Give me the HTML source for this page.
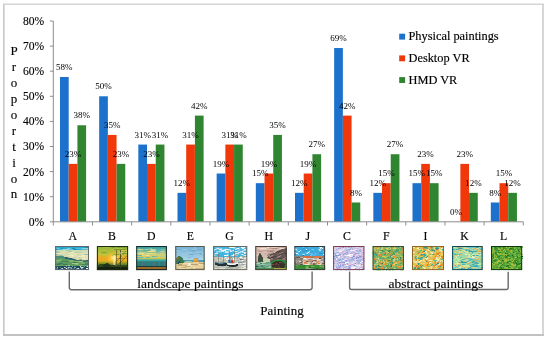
<!DOCTYPE html>
<html><head><meta charset="utf-8"><style>
html,body{margin:0;padding:0;background:#fff;width:550px;height:342px;overflow:hidden}
svg{display:block;will-change:transform}
</style></head><body>
<svg width="550" height="342" viewBox="0 0 550 342"><rect x="0" y="0" width="550" height="342" fill="#fff"/>
<defs><filter id="soft" x="-5%" y="-5%" width="110%" height="110%"><feGaussianBlur stdDeviation="0.35"/></filter></defs>
<g fill="none">
<path d="M3 4.2H544" stroke="#d6d6d6" stroke-width="1.5"/>
<path d="M3.8 4V336" stroke="#cacaca" stroke-width="1.7"/>
<path d="M543 4V336" stroke="#cdcdcd" stroke-width="1.6"/>
<path d="M3 335H544" stroke="#c2c2c2" stroke-width="1.8"/>
</g>
<rect x="60" y="76.99" width="8.7" height="144.81" fill="#1b71cc"/>
<rect x="68.7" y="163.88" width="8.7" height="57.92" fill="#f0380a"/>
<rect x="77.41" y="125.26" width="8.7" height="96.54" fill="#308630"/>
<rect x="99.16" y="96.3" width="8.7" height="125.5" fill="#1b71cc"/>
<rect x="107.87" y="134.92" width="8.7" height="86.88" fill="#f0380a"/>
<rect x="116.57" y="163.88" width="8.7" height="57.92" fill="#308630"/>
<rect x="138.33" y="144.57" width="8.7" height="77.23" fill="#1b71cc"/>
<rect x="147.03" y="163.88" width="8.7" height="57.92" fill="#f0380a"/>
<rect x="155.74" y="144.57" width="8.7" height="77.23" fill="#308630"/>
<rect x="177.5" y="192.84" width="8.7" height="28.96" fill="#1b71cc"/>
<rect x="186.2" y="144.57" width="8.7" height="77.23" fill="#f0380a"/>
<rect x="194.91" y="115.61" width="8.7" height="106.19" fill="#308630"/>
<rect x="216.66" y="173.53" width="8.7" height="48.27" fill="#1b71cc"/>
<rect x="225.37" y="144.57" width="8.7" height="77.23" fill="#f0380a"/>
<rect x="234.07" y="144.57" width="8.7" height="77.23" fill="#308630"/>
<rect x="255.83" y="183.18" width="8.7" height="38.62" fill="#1b71cc"/>
<rect x="264.53" y="173.53" width="8.7" height="48.27" fill="#f0380a"/>
<rect x="273.24" y="134.92" width="8.7" height="86.88" fill="#308630"/>
<rect x="295" y="192.84" width="8.7" height="28.96" fill="#1b71cc"/>
<rect x="303.7" y="173.53" width="8.7" height="48.27" fill="#f0380a"/>
<rect x="312.41" y="154.22" width="8.7" height="67.58" fill="#308630"/>
<rect x="334.16" y="48.03" width="8.7" height="173.77" fill="#1b71cc"/>
<rect x="342.87" y="115.61" width="8.7" height="106.19" fill="#f0380a"/>
<rect x="351.57" y="202.49" width="8.7" height="19.31" fill="#308630"/>
<rect x="373.33" y="192.84" width="8.7" height="28.96" fill="#1b71cc"/>
<rect x="382.03" y="183.18" width="8.7" height="38.62" fill="#f0380a"/>
<rect x="390.74" y="154.22" width="8.7" height="67.58" fill="#308630"/>
<rect x="412.5" y="183.18" width="8.7" height="38.62" fill="#1b71cc"/>
<rect x="421.2" y="163.88" width="8.7" height="57.92" fill="#f0380a"/>
<rect x="429.91" y="183.18" width="8.7" height="38.62" fill="#308630"/>
<rect x="460.37" y="163.88" width="8.7" height="57.92" fill="#f0380a"/>
<rect x="469.07" y="192.84" width="8.7" height="28.96" fill="#308630"/>
<rect x="490.83" y="202.49" width="8.7" height="19.31" fill="#1b71cc"/>
<rect x="499.53" y="183.18" width="8.7" height="38.62" fill="#f0380a"/>
<rect x="508.24" y="192.84" width="8.7" height="28.96" fill="#308630"/>
<g stroke="#8c8c8c" stroke-width="1" fill="none">
<path d="M53.3 21V225.5"/>
<path d="M50 221.8H53.3"/>
<path d="M50 196.7H53.3"/>
<path d="M50 171.6H53.3"/>
<path d="M50 146.5H53.3"/>
<path d="M50 121.4H53.3"/>
<path d="M50 96.3H53.3"/>
<path d="M50 71.2H53.3"/>
<path d="M50 46.1H53.3"/>
<path d="M50 21H53.3"/>
<path d="M53.3 221.8H523.3"/>
<path d="M92.47 221.8V225.5"/>
<path d="M131.63 221.8V225.5"/>
<path d="M170.8 221.8V225.5"/>
<path d="M209.97 221.8V225.5"/>
<path d="M249.13 221.8V225.5"/>
<path d="M288.3 221.8V225.5"/>
<path d="M327.47 221.8V225.5"/>
<path d="M366.63 221.8V225.5"/>
<path d="M405.8 221.8V225.5"/>
<path d="M444.97 221.8V225.5"/>
<path d="M484.13 221.8V225.5"/>
<path d="M523.3 221.8V225.5"/>
</g>
<g style="font-family:'Liberation Serif',serif;font-size:11.6px" fill="#000" stroke="#000" stroke-width="0.12" text-anchor="end">
<text x="44.2" y="225.7">0%</text>
<text x="44.2" y="200.6">10%</text>
<text x="44.2" y="175.5">20%</text>
<text x="44.2" y="150.4">30%</text>
<text x="44.2" y="125.3">40%</text>
<text x="44.2" y="100.2">50%</text>
<text x="44.2" y="75.1">60%</text>
<text x="44.2" y="50">70%</text>
<text x="44.2" y="24.9">80%</text>
</g>
<g style="font-family:'Liberation Serif',serif;font-size:9px" fill="#000" text-anchor="middle">
<text x="64.35" y="70.09">58%</text>
<text x="73.05" y="156.98">23%</text>
<text x="81.76" y="118.36">38%</text>
<text x="103.52" y="89.4">50%</text>
<text x="112.22" y="128.02">35%</text>
<text x="120.92" y="156.98">23%</text>
<text x="142.68" y="137.67">31%</text>
<text x="151.39" y="156.98">23%</text>
<text x="160.09" y="137.67">31%</text>
<text x="181.85" y="185.94">12%</text>
<text x="190.55" y="137.67">31%</text>
<text x="199.26" y="108.71">42%</text>
<text x="221.02" y="166.63">19%</text>
<text x="229.72" y="137.67">31%</text>
<text x="238.42" y="137.67">31%</text>
<text x="260.18" y="176.28">15%</text>
<text x="268.89" y="166.63">19%</text>
<text x="277.59" y="128.02">35%</text>
<text x="299.35" y="185.94">12%</text>
<text x="308.05" y="166.63">19%</text>
<text x="316.76" y="147.32">27%</text>
<text x="338.52" y="41.13">69%</text>
<text x="347.22" y="108.71">42%</text>
<text x="355.92" y="195.59">8%</text>
<text x="377.68" y="185.94">12%</text>
<text x="386.39" y="176.28">15%</text>
<text x="395.09" y="147.32">27%</text>
<text x="416.85" y="176.28">15%</text>
<text x="425.55" y="156.98">23%</text>
<text x="434.26" y="176.28">15%</text>
<text x="456.02" y="214.9">0%</text>
<text x="464.72" y="156.98">23%</text>
<text x="473.42" y="185.94">12%</text>
<text x="495.18" y="195.59">8%</text>
<text x="503.89" y="176.28">15%</text>
<text x="512.59" y="185.94">12%</text>
</g>
<g style="font-family:'Liberation Serif',serif;font-size:11.8px" fill="#000" stroke="#000" stroke-width="0.15" text-anchor="middle">
<text x="72.88" y="240.0">A</text>
<text x="112.05" y="240.0">B</text>
<text x="151.22" y="240.0">D</text>
<text x="190.38" y="240.0">E</text>
<text x="229.55" y="240.0">G</text>
<text x="268.72" y="240.0">H</text>
<text x="307.88" y="240.0">J</text>
<text x="347.05" y="240.0">C</text>
<text x="386.22" y="240.0">F</text>
<text x="425.38" y="240.0">I</text>
<text x="464.55" y="240.0">K</text>
<text x="503.72" y="240.0">L</text>
</g>
<g style="font-family:'Liberation Serif',serif;font-size:12.35px" fill="#000" stroke-width="0.15">
<rect x="399.2" y="33.7" width="5.9" height="5.9" fill="#1b71cc"/>
<text x="408.5" y="40.2" stroke="#000">Physical paintings</text>
<rect x="399.2" y="55.4" width="5.9" height="5.9" fill="#f0380a"/>
<text x="408.5" y="61.9" stroke="#000">Desktop VR</text>
<rect x="399.2" y="77.1" width="5.9" height="5.9" fill="#308630"/>
<text x="408.5" y="83.6" stroke="#000">HMD VR</text>
</g>
<g style="font-family:'Liberation Serif',serif;font-size:13px" fill="#000" stroke="#000" stroke-width="0.12" text-anchor="middle">
<text x="14" y="55">P</text>
<text x="14" y="70.94">r</text>
<text x="14" y="86.88">o</text>
<text x="14" y="102.82">p</text>
<text x="14" y="118.76">o</text>
<text x="14" y="134.7">r</text>
<text x="14" y="150.64">t</text>
<text x="14" y="166.58">i</text>
<text x="14" y="182.52">o</text>
<text x="14" y="198.46">n</text>
</g>
<g filter="url(#soft)"><svg x="55.20" y="246.00" width="33.80" height="24.10" viewBox="0 0 100 75" preserveAspectRatio="none"><rect width="100" height="75" fill="#dcdab0"/><rect width="100" height="13" fill="#28aad0"/><rect width="60" height="3" fill="#1c80b8"/><path d="M27 3l9 1M90 4l16 0M-3 4l10 -1M48 8l9 -0" stroke="#1890c0" stroke-width="2.5" stroke-linecap="round" fill="none"/><path d="M84 7l10 -1M36 8l12 1M35 10l11 -1" stroke="#a0d8e0" stroke-width="2.5" stroke-linecap="round" fill="none"/><path d="M60 8l19 -2M92 2l9 -0" stroke="#40b8d8" stroke-width="2.0" stroke-linecap="round" fill="none"/><path d="M23 5l16 1M31 2l9 0M11 11l12 -0" stroke="#40b8d8" stroke-width="3.0" stroke-linecap="round" fill="none"/><path d="M30 11l15 -0M79 10l15 -1M-9 4l17 -1" stroke="#60c0e0" stroke-width="3.0" stroke-linecap="round" fill="none"/><path d="M21 3l13 0M88 6l13 -1M3 10l18 -1M52 11l12 -1" stroke="#1890c0" stroke-width="3.0" stroke-linecap="round" fill="none"/><path d="M38 9l11 0M25 10l14 -1" stroke="#40b8d8" stroke-width="2.5" stroke-linecap="round" fill="none"/><path d="M32 11l14 -1M78 9l19 -1M37 9l16 1" stroke="#a0d8e0" stroke-width="2.0" stroke-linecap="round" fill="none"/><path d="M64 7l17 1" stroke="#60c0e0" stroke-width="2.0" stroke-linecap="round" fill="none"/><path d="M6 12l18 -1M37 12l12 -1M2 8l10 -0" stroke="#60c0e0" stroke-width="2.5" stroke-linecap="round" fill="none"/><path d="M24 11l15 1M91 9l17 1" stroke="#a0d8e0" stroke-width="3.0" stroke-linecap="round" fill="none"/><rect y="12" width="100" height="5" fill="#c8dcb0"/><path d="M60 20l19 -0M61 26l9 1M32 21l11 0" stroke="#c8d8a8" stroke-width="2.5" stroke-linecap="round" fill="none"/><path d="M36 38l15 0M92 33l10 -0M39 26l9 0" stroke="#e8e4b0" stroke-width="3.0" stroke-linecap="round" fill="none"/><path d="M34 15l15 1" stroke="#98c0a8" stroke-width="3.0" stroke-linecap="round" fill="none"/><path d="M21 18l17 -0M10 22l14 0" stroke="#e0e0b8" stroke-width="3.0" stroke-linecap="round" fill="none"/><path d="M40 28l12 1" stroke="#b0d0a8" stroke-width="3.5" stroke-linecap="round" fill="none"/><path d="M-4 18l10 -0M84 35l20 2M54 23l18 0" stroke="#e0e0b8" stroke-width="3.5" stroke-linecap="round" fill="none"/><path d="M84 25l18 0M49 28l13 -1" stroke="#f0ecc0" stroke-width="3.0" stroke-linecap="round" fill="none"/><path d="M43 29l14 -1" stroke="#e8e4b0" stroke-width="4.0" stroke-linecap="round" fill="none"/><path d="M66 21l9 -0M49 39l10 1M70 35l10 -1" stroke="#98c0a8" stroke-width="2.0" stroke-linecap="round" fill="none"/><path d="M-5 16l17 0" stroke="#b0d0a8" stroke-width="2.5" stroke-linecap="round" fill="none"/><path d="M2 36l15 -0M68 33l19 -0M81 40l8 0M42 20l15 -0M-1 21l13 -0" stroke="#f0ecc0" stroke-width="3.5" stroke-linecap="round" fill="none"/><path d="M86 27l10 -1M-3 28l12 -1" stroke="#98c0a8" stroke-width="2.5" stroke-linecap="round" fill="none"/><path d="M33 20l11 0" stroke="#c8d8a8" stroke-width="3.0" stroke-linecap="round" fill="none"/><path d="M90 39l13 1" stroke="#e8e4b0" stroke-width="2.5" stroke-linecap="round" fill="none"/><path d="M77 36l12 1" stroke="#e8e4b0" stroke-width="3.5" stroke-linecap="round" fill="none"/><path d="M13 30l9 -1" stroke="#98c0a8" stroke-width="3.5" stroke-linecap="round" fill="none"/><path d="M81 30l18 1M39 24l8 -0" stroke="#f0ecc0" stroke-width="2.5" stroke-linecap="round" fill="none"/><path d="M76 37l8 -0" stroke="#c8d8a8" stroke-width="2.0" stroke-linecap="round" fill="none"/><path d="M-2 24l14 1" stroke="#b0d0a8" stroke-width="3.0" stroke-linecap="round" fill="none"/><path d="M-8 24l19 0M41 30l12 1" stroke="#f0ecc0" stroke-width="4.0" stroke-linecap="round" fill="none"/><path d="M68 24l15 -1" stroke="#e0e0b8" stroke-width="2.5" stroke-linecap="round" fill="none"/><path d="M2 19l9 1" stroke="#98c0a8" stroke-width="4.0" stroke-linecap="round" fill="none"/><path d="M57 21l19 -1" stroke="#b0d0a8" stroke-width="2.0" stroke-linecap="round" fill="none"/><path d="M0 30 Q20 30 40 40 Q60 46 100 44 V75 H0Z" fill="#5a9a60"/><path d="M0 30 Q15 29 30 34 L30 40 Q15 36 0 38Z" fill="#4a8a78"/><path d="M28 34 Q45 36 60 42 Q80 47 98 44 L98 48 Q78 50 58 46 Q44 42 28 40Z" fill="#2a6070"/><path d="M17 59l9 1M71 60l13 0M19 59l13 -3M38 43l19 4M5 62l12 -0" stroke="#8ab868" stroke-width="2.0" stroke-linecap="round" fill="none"/><path d="M64 49l14 -2M88 55l18 -4M50 54l19 -0M1 46l17 -3" stroke="#a8c888" stroke-width="2.5" stroke-linecap="round" fill="none"/><path d="M20 48l19 -1M3 61l20 0" stroke="#6aaa58" stroke-width="2.0" stroke-linecap="round" fill="none"/><path d="M82 57l17 2M-0 56l17 3M88 55l9 -2M64 45l13 -2M53 51l15 -1M28 48l8 0M9 55l13 -0M35 61l13 -0" stroke="#3a7a60" stroke-width="2.5" stroke-linecap="round" fill="none"/><path d="M-2 59l15 1M14 49l9 -1M68 53l13 -3" stroke="#6aaa58" stroke-width="3.0" stroke-linecap="round" fill="none"/><path d="M42 63l8 -2M-2 51l12 -0M89 61l18 -0M18 60l11 2" stroke="#6aaa58" stroke-width="2.5" stroke-linecap="round" fill="none"/><path d="M89 54l15 -0" stroke="#4a8a50" stroke-width="3.0" stroke-linecap="round" fill="none"/><path d="M76 59l13 -1" stroke="#3a7a60" stroke-width="2.0" stroke-linecap="round" fill="none"/><path d="M66 48l15 -0" stroke="#a8c888" stroke-width="2.0" stroke-linecap="round" fill="none"/><path d="M25 58l18 3" stroke="#a8c888" stroke-width="3.0" stroke-linecap="round" fill="none"/><path d="M59 57l9 0M-6 46l16 0M42 47l10 1" stroke="#8ab868" stroke-width="2.5" stroke-linecap="round" fill="none"/><path d="M16 48l15 0M19 62l18 0" stroke="#4a8a50" stroke-width="2.0" stroke-linecap="round" fill="none"/><path d="M-3 48l18 -1" stroke="#78b070" stroke-width="2.5" stroke-linecap="round" fill="none"/><path d="M77 55l12 1M77 50l10 1" stroke="#78b070" stroke-width="3.0" stroke-linecap="round" fill="none"/><path d="M51 46l17 2" stroke="#8ab868" stroke-width="3.0" stroke-linecap="round" fill="none"/><path d="M21 56l16 3" stroke="#3a7a60" stroke-width="3.0" stroke-linecap="round" fill="none"/><rect y="63" width="100" height="12" fill="#1c4658"/><path d="M6 69l2 -2M28 67l3 1M56 65l3 1M78 70l2 -1M75 64l2 1M93 65l2 -1M80 72l3 0" stroke="#ffffff" stroke-width="2.0" stroke-linecap="round" fill="none"/><path d="M50 65l2 -1M34 64l2 2M79 68l2 -1" stroke="#c8e0e8" stroke-width="1.5" stroke-linecap="round" fill="none"/><path d="M63 71l4 -2M77 71l2 -2M5 66l4 -1M68 71l4 1M74 67l2 1M45 67l2 -1M47 67l2 1M80 68l3 -2M79 67l3 -2M46 70l4 0" stroke="#80b0c0" stroke-width="2.0" stroke-linecap="round" fill="none"/><path d="M-1 71l3 0M94 64l2 -1M80 68l3 -1M30 68l2 1M40 66l2 0" stroke="#e0f0f0" stroke-width="2.0" stroke-linecap="round" fill="none"/><path d="M14 73l5 -1M67 70l3 -0M78 67l3 1M22 72l3 -0M39 67l2 -1" stroke="#e0f0f0" stroke-width="2.5" stroke-linecap="round" fill="none"/><path d="M57 67l4 0M84 66l3 -2M55 69l3 -1" stroke="#80b0c0" stroke-width="2.5" stroke-linecap="round" fill="none"/><path d="M38 71l4 1M32 70l3 0M92 70l3 0" stroke="#ffffff" stroke-width="2.5" stroke-linecap="round" fill="none"/><path d="M0 71l4 -0" stroke="#80b0c0" stroke-width="1.5" stroke-linecap="round" fill="none"/><path d="M77 67l2 1M3 72l4 2M15 66l2 -1" stroke="#e0f0f0" stroke-width="1.5" stroke-linecap="round" fill="none"/><path d="M18 73l3 -2M19 70l4 -1M62 73l3 -1" stroke="#c8e0e8" stroke-width="2.0" stroke-linecap="round" fill="none"/><path d="M40 66l2 -1" stroke="#c8e0e8" stroke-width="2.5" stroke-linecap="round" fill="none"/></svg></g><rect x="55.70" y="246.50" width="32.80" height="23.10" fill="none" stroke="#5e686c" stroke-width="1"/>
<g filter="url(#soft)"><svg x="96.90" y="246.00" width="31.20" height="24.10" viewBox="0 0 100 75" preserveAspectRatio="none"><defs><linearGradient id="gB" x1="0" y1="0" x2="0" y2="1"><stop offset="0" stop-color="#8fb23a"/><stop offset="0.35" stop-color="#c2c43a"/><stop offset="0.5" stop-color="#f0a822"/><stop offset="0.62" stop-color="#e0b020"/><stop offset="0.75" stop-color="#6a8a2a"/><stop offset="1" stop-color="#2e4a1a"/></linearGradient><radialGradient id="rB" cx="0.55" cy="0.5" r="0.3"><stop offset="0" stop-color="#fff6c0"/><stop offset="0.4" stop-color="#ffd040" stop-opacity="0.8"/><stop offset="1" stop-color="#f0a020" stop-opacity="0"/></radialGradient></defs><rect width="100" height="75" fill="url(#gB)"/><rect width="100" height="75" fill="url(#rB)"/><path d="M60 8l19 0M18 12l11 -0M15 23l18 0" stroke="#a8c040" stroke-width="3.0" stroke-linecap="round" fill="none"/><path d="M74 3l19 1M30 2l13 1M54 27l15 -0M67 4l14 0M75 15l13 -1" stroke="#7aa030" stroke-width="3.0" stroke-linecap="round" fill="none"/><path d="M21 5l11 1M51 26l12 -1M44 11l10 -0M-5 28l14 -0" stroke="#a8c040" stroke-width="2.0" stroke-linecap="round" fill="none"/><path d="M72 21l10 0M96 21l8 0M76 16l19 -1M81 19l18 1" stroke="#d0c848" stroke-width="3.0" stroke-linecap="round" fill="none"/><path d="M23 5l19 1M48 29l17 -1M19 18l8 1M67 22l9 1M50 13l17 0M-10 14l19 1" stroke="#a8c040" stroke-width="2.5" stroke-linecap="round" fill="none"/><path d="M14 21l16 0M80 18l12 -0M48 5l9 -0M25 3l17 -1M82 23l18 0" stroke="#7aa030" stroke-width="2.5" stroke-linecap="round" fill="none"/><path d="M83 24l16 -1M87 6l19 1" stroke="#7aa030" stroke-width="2.0" stroke-linecap="round" fill="none"/><path d="M77 14l11 -1" stroke="#d0c848" stroke-width="2.5" stroke-linecap="round" fill="none"/><path d="M0 60 Q20 52 40 58 T70 60 L100 58 V75 H0Z" fill="#2e4a1c"/><rect y="66" width="100" height="9" fill="#16240e"/><path d="M38 62 Q48 54 60 62 Z" fill="#2a3a2a"/><g stroke="#3a3a1e" stroke-width="1.5" fill="none"><path d="M56 12 H94 M62 12 V70 M76 12 V70 M60 50 L94 16 M64 62 L96 30 M62 40 H96"/></g><g stroke="#d8c890" stroke-width="1" fill="none" opacity="0.8"><path d="M66 14 L92 40 M70 20 H96"/></g><rect x="53" y="28" width="5" height="30" fill="#fff0b0" opacity="0.7"/><path d="M20 60 Q30 50 40 56 L44 66 H18Z" fill="#24301c"/></svg></g><rect x="97.40" y="246.50" width="30.20" height="23.10" fill="none" stroke="#1e2a14" stroke-width="1"/>
<g filter="url(#soft)"><svg x="136.20" y="246.00" width="30.70" height="24.10" viewBox="0 0 100 75" preserveAspectRatio="none"><defs><linearGradient id="gD" x1="0" y1="0" x2="0" y2="1"><stop offset="0" stop-color="#2a9a9a"/><stop offset="0.18" stop-color="#5ab0a8"/><stop offset="0.35" stop-color="#c8d080"/><stop offset="0.5" stop-color="#f0c840"/><stop offset="0.58" stop-color="#3ab0a8"/><stop offset="0.7" stop-color="#3a9a98"/><stop offset="0.85" stop-color="#2a6a6a"/><stop offset="1" stop-color="#6a4a20"/></linearGradient></defs><rect width="100" height="75" fill="url(#gD)"/><path d="M71 25l13 -0M24 28l13 -1M82 12l11 -0" stroke="#d0e0a0" stroke-width="2.0" stroke-linecap="round" fill="none"/><path d="M74 33l22 1M7 36l19 -1M46 34l23 1M36 17l22 0M29 36l14 1" stroke="#a8d0a0" stroke-width="3.0" stroke-linecap="round" fill="none"/><path d="M13 25l14 -1M-4 20l14 1M9 13l18 -1M-5 38l18 -0M11 34l23 1M45 13l19 1M-3 19l19 -0" stroke="#a8d0a0" stroke-width="2.5" stroke-linecap="round" fill="none"/><path d="M15 24l11 -1M79 22l10 0M75 16l17 0M1 10l14 -0M1 22l19 0" stroke="#f0e090" stroke-width="2.5" stroke-linecap="round" fill="none"/><path d="M33 35l11 -0M66 10l12 -0M52 33l19 1" stroke="#60b8b0" stroke-width="2.5" stroke-linecap="round" fill="none"/><path d="M29 10l21 -1M48 11l15 1M46 13l14 0" stroke="#d0e0a0" stroke-width="2.5" stroke-linecap="round" fill="none"/><path d="M12 19l23 -0M16 30l16 -1M8 28l15 -1" stroke="#e8d870" stroke-width="2.5" stroke-linecap="round" fill="none"/><path d="M60 16l13 -0" stroke="#a8d0a0" stroke-width="2.0" stroke-linecap="round" fill="none"/><path d="M-3 28l21 1M67 16l12 -1M3 35l19 0" stroke="#60b8b0" stroke-width="3.0" stroke-linecap="round" fill="none"/><path d="M44 24l19 -1M38 18l11 -0M6 9l15 1" stroke="#e8d870" stroke-width="2.0" stroke-linecap="round" fill="none"/><path d="M18 9l16 0" stroke="#60b8b0" stroke-width="2.0" stroke-linecap="round" fill="none"/><path d="M32 30l13 -0M36 23l20 -1" stroke="#f0e090" stroke-width="2.0" stroke-linecap="round" fill="none"/><path d="M41 17l21 -1" stroke="#f0e090" stroke-width="3.0" stroke-linecap="round" fill="none"/><rect y="48" width="100" height="16" fill="#2a7a7c"/><g stroke="#5a7a7c" stroke-width="1.6"><path d="M0 50 H100"/><path d="M4 49 V63"/><path d="M12 49 V63"/><path d="M20 49 V63"/><path d="M28 49 V63"/><path d="M36 49 V63"/><path d="M44 49 V63"/><path d="M52 49 V63"/><path d="M60 49 V63"/><path d="M68 49 V63"/><path d="M76 49 V63"/><path d="M84 49 V63"/><path d="M92 49 V63"/></g><rect y="62" width="100" height="4" fill="#1a3a40"/><rect y="66" width="100" height="9" fill="#9a6a28"/><rect y="71" width="100" height="4" fill="#3a2a10"/></svg></g><rect x="136.70" y="246.50" width="29.70" height="23.10" fill="none" stroke="#1a2a2a" stroke-width="1"/>
<g filter="url(#soft)"><svg x="175.30" y="246.00" width="29.30" height="24.10" viewBox="0 0 100 75" preserveAspectRatio="none"><defs><linearGradient id="gE" x1="0" y1="0" x2="0" y2="1"><stop offset="0" stop-color="#74b0d6"/><stop offset="0.45" stop-color="#9ccce2"/><stop offset="0.6" stop-color="#b0d6e2"/></linearGradient></defs><rect width="100" height="75" fill="url(#gE)"/><path d="M7 7l12 0M12 19l10 -0M36 21l14 -1M2 15l17 -0M89 33l20 1" stroke="#9cc8e0" stroke-width="2.5" stroke-linecap="round" fill="none"/><path d="M62 4l17 0M83 24l20 -0M54 13l16 0" stroke="#70acd0" stroke-width="3.0" stroke-linecap="round" fill="none"/><path d="M51 18l11 0M60 6l11 -1M45 20l13 1M79 36l20 2M2 38l20 -1M62 6l11 1M24 27l17 -1" stroke="#9cc8e0" stroke-width="2.0" stroke-linecap="round" fill="none"/><path d="M88 24l9 -1" stroke="#b8dce8" stroke-width="2.5" stroke-linecap="round" fill="none"/><path d="M44 35l13 1" stroke="#c4e0ea" stroke-width="2.5" stroke-linecap="round" fill="none"/><path d="M81 16l10 -0M56 17l14 -1M73 12l16 1M6 10l11 -0M72 21l17 2" stroke="#70acd0" stroke-width="2.0" stroke-linecap="round" fill="none"/><path d="M86 27l14 -0M9 35l10 -1" stroke="#80b8d8" stroke-width="2.5" stroke-linecap="round" fill="none"/><path d="M48 15l11 -0M44 35l15 -1M49 27l14 -0M74 10l16 0M5 11l17 -0" stroke="#70acd0" stroke-width="2.5" stroke-linecap="round" fill="none"/><path d="M24 10l16 2M96 40l9 0M70 20l18 -2M56 10l15 -0M51 37l17 -1" stroke="#9cc8e0" stroke-width="3.0" stroke-linecap="round" fill="none"/><path d="M6 8l19 -1M85 6l17 -0M64 23l11 1" stroke="#80b8d8" stroke-width="2.0" stroke-linecap="round" fill="none"/><path d="M77 38l19 1" stroke="#b8dce8" stroke-width="2.0" stroke-linecap="round" fill="none"/><path d="M65 39l15 -0M96 39l8 1" stroke="#80b8d8" stroke-width="3.0" stroke-linecap="round" fill="none"/><rect y="49" width="100" height="26" fill="#e4d098"/><rect x="28" y="44" width="72" height="5" fill="#4c9cb8"/><path d="M2 56 L3 38 Q8 30 16 32 Q24 34 28 44 L30 56Z" fill="#3a7850"/><path d="M3 40 Q8 32 14 33 L12 40 Q8 42 4 44Z" fill="#8a7040"/><path d="M8 56 Q10 46 16 46 L20 56Z" fill="#24505a"/><path d="M30 50 L40 46 L56 48 L60 52 H30Z" fill="#b8c8a0"/><path d="M60 50 L63 40 L76 38 L80 50 H60Z" fill="#e48c2a"/><path d="M64 42 L75 40 L78 45 L62 45Z" fill="#f0aa40"/><path d="M64 71l16 -0M35 65l16 -1" stroke="#d8bc80" stroke-width="2.5" stroke-linecap="round" fill="none"/><path d="M1 60l14 -1M27 55l16 0M62 68l19 -0M84 72l15 0" stroke="#f4e4b8" stroke-width="2.5" stroke-linecap="round" fill="none"/><path d="M17 65l13 -0M23 54l17 0M73 67l13 -0" stroke="#f0dca8" stroke-width="2.5" stroke-linecap="round" fill="none"/><path d="M29 65l12 0M40 72l13 0" stroke="#d8bc80" stroke-width="2.0" stroke-linecap="round" fill="none"/><path d="M91 59l10 0M61 73l14 1M60 65l15 1M44 60l10 -1" stroke="#e8d4a0" stroke-width="2.5" stroke-linecap="round" fill="none"/><path d="M22 71l10 -0M7 70l14 0" stroke="#f0dca8" stroke-width="3.0" stroke-linecap="round" fill="none"/><path d="M5 73l17 1M18 73l18 1M0 71l12 -0M51 71l14 -0M19 68l17 -1M10 58l10 0" stroke="#c8b078" stroke-width="2.5" stroke-linecap="round" fill="none"/><path d="M66 57l17 1M41 61l18 1M39 66l14 -0M84 59l10 -0M93 61l8 -0" stroke="#f4e4b8" stroke-width="3.0" stroke-linecap="round" fill="none"/><path d="M58 58l19 -1M81 53l18 1M11 59l12 -1" stroke="#b8a070" stroke-width="3.0" stroke-linecap="round" fill="none"/><path d="M67 70l15 0M15 54l9 0M64 73l12 -1M23 73l12 -1" stroke="#d8bc80" stroke-width="3.0" stroke-linecap="round" fill="none"/><path d="M64 70l19 0M60 67l12 1" stroke="#f4e4b8" stroke-width="2.0" stroke-linecap="round" fill="none"/><path d="M-5 70l12 -1M82 67l14 -1" stroke="#e8d4a0" stroke-width="2.0" stroke-linecap="round" fill="none"/><path d="M9 73l15 -0M11 61l15 0M27 60l12 0M7 60l17 1" stroke="#c8b078" stroke-width="2.0" stroke-linecap="round" fill="none"/><path d="M-4 73l14 -0M90 66l14 1M80 59l16 1" stroke="#f0dca8" stroke-width="2.0" stroke-linecap="round" fill="none"/><path d="M47 57l19 1M33 65l17 -0M85 71l18 0" stroke="#b8a070" stroke-width="2.5" stroke-linecap="round" fill="none"/><path d="M69 70l17 0" stroke="#c8b078" stroke-width="3.0" stroke-linecap="round" fill="none"/><rect x="44" y="54" width="10" height="4" fill="#f4ecd8"/></svg></g><rect x="175.80" y="246.50" width="28.30" height="23.10" fill="none" stroke="#5a5a50" stroke-width="1"/>
<g filter="url(#soft)"><svg x="213.10" y="246.00" width="34.20" height="24.10" viewBox="0 0 100 75" preserveAspectRatio="none"><rect width="100" height="75" fill="#c4c8bc"/><rect width="100" height="34" fill="#40b4e0"/><path d="M11 6l7 4M84 26l12 5M84 5l9 -0M56 3l10 -0M17 20l9 -4" stroke="#e8f4f8" stroke-width="3.0" stroke-linecap="round" fill="none"/><path d="M7 6l11 -1M71 12l7 2M68 27l12 -2" stroke="#60c0e8" stroke-width="3.0" stroke-linecap="round" fill="none"/><path d="M60 26l9 4M49 4l13 2M33 30l11 -2" stroke="#ffffff" stroke-width="3.5" stroke-linecap="round" fill="none"/><path d="M48 17l12 -2M75 21l8 -4M37 10l14 3" stroke="#d0ecf4" stroke-width="4.0" stroke-linecap="round" fill="none"/><path d="M81 17l11 -3M-1 29l9 1M73 9l6 3" stroke="#a0d8f0" stroke-width="2.5" stroke-linecap="round" fill="none"/><path d="M82 5l12 6M26 15l12 -4M6 25l11 -5" stroke="#ffffff" stroke-width="3.0" stroke-linecap="round" fill="none"/><path d="M82 18l12 2" stroke="#e8f4f8" stroke-width="3.5" stroke-linecap="round" fill="none"/><path d="M11 18l14 1M-1 15l12 -6M35 21l10 0" stroke="#d0ecf4" stroke-width="3.5" stroke-linecap="round" fill="none"/><path d="M11 20l13 -0M1 25l12 7" stroke="#60c0e8" stroke-width="2.5" stroke-linecap="round" fill="none"/><path d="M85 13l9 0M22 8l12 3" stroke="#a0d8f0" stroke-width="3.0" stroke-linecap="round" fill="none"/><path d="M11 19l7 -3M69 10l6 -3M21 12l8 -0" stroke="#a0d8f0" stroke-width="3.5" stroke-linecap="round" fill="none"/><path d="M71 10l7 -2M58 17l12 4M21 16l8 -5M93 23l10 -5" stroke="#60c0e8" stroke-width="3.5" stroke-linecap="round" fill="none"/><path d="M37 17l7 -1M65 23l10 1" stroke="#d0ecf4" stroke-width="3.0" stroke-linecap="round" fill="none"/><path d="M29 14l7 -1" stroke="#ffffff" stroke-width="4.0" stroke-linecap="round" fill="none"/><path d="M65 10l12 -4" stroke="#ffffff" stroke-width="2.5" stroke-linecap="round" fill="none"/><path d="M92 23l8 -3M3 25l9 -1M13 8l6 2" stroke="#e8f4f8" stroke-width="2.5" stroke-linecap="round" fill="none"/><path d="M19 10l12 7" stroke="#e8f4f8" stroke-width="4.0" stroke-linecap="round" fill="none"/><path d="M63 18l12 -3" stroke="#d0ecf4" stroke-width="2.5" stroke-linecap="round" fill="none"/><path d="M80 32l9 -1M21 39l9 0" stroke="#e8e8e0" stroke-width="2.0" stroke-linecap="round" fill="none"/><path d="M97 52l3 -0M60 53l8 1" stroke="#e8e8e0" stroke-width="3.5" stroke-linecap="round" fill="none"/><path d="M-3 44l7 0M88 32l5 1" stroke="#a89880" stroke-width="3.5" stroke-linecap="round" fill="none"/><path d="M36 56l10 0M47 46l9 0" stroke="#8a9a9a" stroke-width="3.5" stroke-linecap="round" fill="none"/><path d="M11 31l7 -1M62 37l8 1" stroke="#70a0a8" stroke-width="2.0" stroke-linecap="round" fill="none"/><path d="M-2 49l10 1M76 43l3 1M59 39l8 1M25 39l7 1M40 41l9 -1M84 46l4 -1" stroke="#ffffff" stroke-width="3.5" stroke-linecap="round" fill="none"/><path d="M48 35l5 1M29 46l4 0" stroke="#a89880" stroke-width="3.0" stroke-linecap="round" fill="none"/><path d="M4 33l5 -0" stroke="#70a0a8" stroke-width="3.5" stroke-linecap="round" fill="none"/><path d="M66 56l5 0M55 52l5 1M49 38l7 -0" stroke="#707870" stroke-width="3.0" stroke-linecap="round" fill="none"/><path d="M42 57l6 1M52 31l10 -1M35 36l5 -1M76 35l7 1" stroke="#ffffff" stroke-width="2.5" stroke-linecap="round" fill="none"/><path d="M84 47l4 1" stroke="#707870" stroke-width="2.0" stroke-linecap="round" fill="none"/><path d="M54 54l10 -1M86 42l10 1" stroke="#b8b4a0" stroke-width="3.5" stroke-linecap="round" fill="none"/><path d="M39 37l8 0M82 57l5 -1" stroke="#d8d0b8" stroke-width="2.5" stroke-linecap="round" fill="none"/><path d="M79 43l6 -1M80 51l4 -1" stroke="#707870" stroke-width="3.5" stroke-linecap="round" fill="none"/><path d="M82 39l8 -0M96 58l3 0" stroke="#707870" stroke-width="2.5" stroke-linecap="round" fill="none"/><path d="M69 44l5 -0M44 33l10 -1M72 55l5 1" stroke="#8a9a9a" stroke-width="2.5" stroke-linecap="round" fill="none"/><path d="M13 48l6 -0M35 48l6 -0" stroke="#d8d0b8" stroke-width="3.0" stroke-linecap="round" fill="none"/><path d="M62 38l10 -0M68 37l8 -1" stroke="#a89880" stroke-width="2.0" stroke-linecap="round" fill="none"/><path d="M14 45l4 0M84 39l4 -1M74 55l8 -1M52 40l3 -0" stroke="#e8e8e0" stroke-width="3.0" stroke-linecap="round" fill="none"/><path d="M6 49l3 0M22 52l7 -1M84 58l7 -0" stroke="#8a9a9a" stroke-width="3.0" stroke-linecap="round" fill="none"/><path d="M81 49l9 0" stroke="#b8b4a0" stroke-width="2.5" stroke-linecap="round" fill="none"/><path d="M59 42l7 -1" stroke="#ffffff" stroke-width="2.0" stroke-linecap="round" fill="none"/><path d="M21 39l5 0M47 42l7 0M19 48l7 0M62 30l9 -0" stroke="#b8b4a0" stroke-width="3.0" stroke-linecap="round" fill="none"/><path d="M43 52l8 -1M43 55l5 -1" stroke="#70a0a8" stroke-width="3.0" stroke-linecap="round" fill="none"/><path d="M90 38l9 -1" stroke="#ffffff" stroke-width="3.0" stroke-linecap="round" fill="none"/><path d="M55 50l7 1" stroke="#d8d0b8" stroke-width="3.5" stroke-linecap="round" fill="none"/><path d="M91 47l6 0" stroke="#e8e8e0" stroke-width="2.5" stroke-linecap="round" fill="none"/><g stroke="#8a7a68" stroke-width="1.4"><path d="M16 24 V58 M30 30 V58 M48 14 V58 M62 16 V58 M76 26 V58 M90 20 V58"/></g><path d="M4 50 Q20 58 40 52 L38 62 Q20 66 6 58Z" fill="#24363e"/><path d="M8 50 Q20 54 38 50 L38 53 Q20 57 8 53Z" fill="#5a8a98"/><path d="M38 52 Q56 60 74 52 L72 63 Q56 67 40 62Z" fill="#1e262c"/><path d="M40 52 Q56 58 72 51 L72 56 Q56 62 40 57Z" fill="#f4f4f0"/><path d="M52 46 L58 42 L60 52 L54 54Z" fill="#c83020"/><path d="M44 44 L50 42 L52 54 L46 54Z" fill="#2a6aa0"/><path d="M-7 68l14 1M48 69l15 0M91 69l16 0M41 69l7 -0" stroke="#d8d8c8" stroke-width="2.5" stroke-linecap="round" fill="none"/><path d="M71 67l10 -0M2 72l11 -1M94 71l8 -0M82 70l7 -0M77 68l14 -1M18 71l10 1" stroke="#e8e8d8" stroke-width="3.0" stroke-linecap="round" fill="none"/><path d="M61 70l15 -0M25 70l9 1" stroke="#e8e8d8" stroke-width="2.0" stroke-linecap="round" fill="none"/><path d="M84 73l12 1M-3 73l12 1" stroke="#e8e8d8" stroke-width="2.5" stroke-linecap="round" fill="none"/><path d="M62 71l12 0M68 72l7 -0M57 72l13 -1M3 66l15 -0" stroke="#b0b0a0" stroke-width="3.0" stroke-linecap="round" fill="none"/><path d="M12 73l14 1M45 68l11 1" stroke="#7aa8a8" stroke-width="2.5" stroke-linecap="round" fill="none"/><path d="M32 75l7 -1" stroke="#909890" stroke-width="2.5" stroke-linecap="round" fill="none"/><path d="M85 67l9 -0M37 71l6 0M22 74l9 -1M44 72l8 0M45 67l14 0M69 67l13 1" stroke="#b0b0a0" stroke-width="2.5" stroke-linecap="round" fill="none"/><path d="M93 69l6 0M51 73l7 -0" stroke="#d8d8c8" stroke-width="2.0" stroke-linecap="round" fill="none"/><path d="M40 67l10 0" stroke="#909890" stroke-width="2.0" stroke-linecap="round" fill="none"/><path d="M92 58l7 0M74 63l6 -1" stroke="#b8c0c0" stroke-width="2.0" stroke-linecap="round" fill="none"/><path d="M76 60l4 -0M94 45l6 1" stroke="#b8c0c0" stroke-width="3.0" stroke-linecap="round" fill="none"/><path d="M84 64l6 -1M93 42l6 -1M84 61l6 0M77 48l10 -0" stroke="#b8c0c0" stroke-width="2.5" stroke-linecap="round" fill="none"/><path d="M88 55l7 -1M86 59l8 1M90 67l4 -0M80 53l5 -0" stroke="#f0f0e8" stroke-width="2.5" stroke-linecap="round" fill="none"/><path d="M84 63l7 -0" stroke="#f0f0e8" stroke-width="2.0" stroke-linecap="round" fill="none"/><path d="M85 50l9 -1M74 51l8 1M96 65l7 0" stroke="#80909a" stroke-width="2.5" stroke-linecap="round" fill="none"/></svg></g><rect x="213.60" y="246.50" width="33.20" height="23.10" fill="none" stroke="#6a6a60" stroke-width="1"/>
<g filter="url(#soft)"><svg x="255.30" y="246.00" width="31.40" height="24.10" viewBox="0 0 100 75" preserveAspectRatio="none"><rect width="100" height="75" fill="#d4bcb0"/><path d="M87 7l18 -0M29 25l17 -1M9 16l13 1M71 23l13 -0" stroke="#b89088" stroke-width="2.5" stroke-linecap="round" fill="none"/><path d="M23 3l11 -1M53 7l23 2M25 2l18 -0" stroke="#c8a098" stroke-width="2.0" stroke-linecap="round" fill="none"/><path d="M86 28l19 -2" stroke="#a88078" stroke-width="2.0" stroke-linecap="round" fill="none"/><path d="M58 32l20 -1M94 4l10 -1M35 14l19 1" stroke="#c8a098" stroke-width="3.0" stroke-linecap="round" fill="none"/><path d="M69 18l19 -2M92 18l15 -0M1 28l18 1M7 9l24 1" stroke="#d8b0a0" stroke-width="2.0" stroke-linecap="round" fill="none"/><path d="M38 5l21 -2M12 8l22 -0M78 7l12 -1" stroke="#f0e0d0" stroke-width="3.0" stroke-linecap="round" fill="none"/><path d="M59 25l14 -1M51 24l15 -1M47 6l22 2" stroke="#a88078" stroke-width="2.5" stroke-linecap="round" fill="none"/><path d="M84 8l16 -2M8 6l22 2M84 11l14 -1" stroke="#f0e0d0" stroke-width="2.5" stroke-linecap="round" fill="none"/><path d="M66 6l18 -1M39 17l16 -1M46 6l21 -0" stroke="#b89088" stroke-width="3.0" stroke-linecap="round" fill="none"/><path d="M78 17l13 -1M65 6l23 -3M69 18l12 -1M55 17l22 -3M35 23l14 -1M-5 6l22 -0" stroke="#d8b0a0" stroke-width="2.5" stroke-linecap="round" fill="none"/><path d="M86 5l17 0M-2 31l22 -3M5 15l10 -1M17 16l22 -3" stroke="#c8a098" stroke-width="2.5" stroke-linecap="round" fill="none"/><path d="M16 10l21 -0M-2 31l20 -3M50 4l18 -0" stroke="#e8d4c8" stroke-width="2.5" stroke-linecap="round" fill="none"/><path d="M30 42 L44 30 L58 24 L70 16 L84 10 L100 6 V60 H30Z" fill="#665654"/><path d="M41 30l10 -6M65 19l12 -2M37 29l10 -3M50 18l7 -3M66 44l8 -2M71 28l9 -4" stroke="#887878" stroke-width="2.5" stroke-linecap="round" fill="none"/><path d="M75 28l10 -4" stroke="#504444" stroke-width="3.0" stroke-linecap="round" fill="none"/><path d="M60 34l6 -1M67 19l13 -3" stroke="#4a3c3a" stroke-width="2.5" stroke-linecap="round" fill="none"/><path d="M94 24l10 -3M38 43l7 -3" stroke="#4a3c3a" stroke-width="3.0" stroke-linecap="round" fill="none"/><path d="M43 23l7 -2M50 40l7 -3M82 45l9 -3M47 18l13 -4" stroke="#988078" stroke-width="2.0" stroke-linecap="round" fill="none"/><path d="M92 43l6 -2" stroke="#988078" stroke-width="3.0" stroke-linecap="round" fill="none"/><path d="M42 29l6 -2M69 36l13 -6M85 42l11 -6" stroke="#a89890" stroke-width="2.5" stroke-linecap="round" fill="none"/><path d="M69 40l9 -2M79 40l12 -4M73 20l11 -6" stroke="#504444" stroke-width="2.0" stroke-linecap="round" fill="none"/><path d="M46 43l8 -2" stroke="#887878" stroke-width="3.0" stroke-linecap="round" fill="none"/><path d="M49 26l11 -2M56 37l8 -4" stroke="#504444" stroke-width="2.5" stroke-linecap="round" fill="none"/><path d="M77 24l9 -4" stroke="#988078" stroke-width="2.5" stroke-linecap="round" fill="none"/><path d="M52 36l8 -2" stroke="#4a3c3a" stroke-width="2.0" stroke-linecap="round" fill="none"/><path d="M55 21l6 -3" stroke="#a89890" stroke-width="2.0" stroke-linecap="round" fill="none"/><path d="M45 34l11 -5" stroke="#a89890" stroke-width="3.0" stroke-linecap="round" fill="none"/><path d="M86 42l8 -3" stroke="#887878" stroke-width="2.0" stroke-linecap="round" fill="none"/><path d="M22 40 Q36 34 48 42 L48 52 H22Z" fill="#c8d0b0"/><path d="M8 50 L10 30 L15 20 L19 28 L24 36 L26 52Z" fill="#404c40"/><path d="M0 50 Q30 46 60 54 L60 75 H0Z" fill="#62a088"/><path d="M17 63l8 0M11 53l11 1M53 50l11 1M-0 50l14 1" stroke="#3a7a60" stroke-width="2.5" stroke-linecap="round" fill="none"/><path d="M26 65l8 -0M38 59l13 -3M31 68l10 0M30 56l14 3M-2 69l11 1M41 71l7 -0M9 60l8 2" stroke="#7ab898" stroke-width="2.5" stroke-linecap="round" fill="none"/><path d="M48 64l8 2" stroke="#7ab898" stroke-width="2.0" stroke-linecap="round" fill="none"/><path d="M40 63l14 -0" stroke="#2a6040" stroke-width="2.0" stroke-linecap="round" fill="none"/><path d="M4 72l8 -2" stroke="#2a6040" stroke-width="3.0" stroke-linecap="round" fill="none"/><path d="M18 70l12 -2" stroke="#3a7a60" stroke-width="3.0" stroke-linecap="round" fill="none"/><path d="M18 57l7 1M36 61l12 -3M5 50l9 1M44 55l9 1M53 61l8 -1" stroke="#88b0a0" stroke-width="3.0" stroke-linecap="round" fill="none"/><path d="M16 58l13 0M-3 55l15 3" stroke="#88b0a0" stroke-width="2.5" stroke-linecap="round" fill="none"/><path d="M33 70l11 2M55 62l9 -1M46 63l12 1" stroke="#a0c8a0" stroke-width="2.5" stroke-linecap="round" fill="none"/><path d="M42 69l15 -1M7 69l15 -1" stroke="#c0d0b0" stroke-width="2.0" stroke-linecap="round" fill="none"/><path d="M-4 57l15 -3M19 62l6 -1" stroke="#3a7a60" stroke-width="2.0" stroke-linecap="round" fill="none"/><path d="M2 64l7 0" stroke="#2a6040" stroke-width="2.5" stroke-linecap="round" fill="none"/><path d="M40 66l10 1M2 55l11 0" stroke="#c0d0b0" stroke-width="3.0" stroke-linecap="round" fill="none"/><path d="M43 66l11 2M20 58l7 2M14 50l15 2" stroke="#88b0a0" stroke-width="2.0" stroke-linecap="round" fill="none"/><path d="M19 57l12 1M41 66l14 -1" stroke="#a0c8a0" stroke-width="3.0" stroke-linecap="round" fill="none"/><path d="M22 54l10 -2M43 64l9 0" stroke="#a0c8a0" stroke-width="2.0" stroke-linecap="round" fill="none"/><path d="M19 51l13 -0" stroke="#c0d0b0" stroke-width="2.5" stroke-linecap="round" fill="none"/><path d="M48 52 Q56 42 78 42 Q96 42 100 50 V70 L52 70 Z" fill="#2e8a3a"/><path d="M52 55 Q60 46 78 46 Q92 48 94 58 L92 70 L56 70 Z" fill="#3c302c"/><path d="M59 62l7 1" stroke="#5a4038" stroke-width="3.0" stroke-linecap="round" fill="none"/><path d="M53 59l6 -2M77 51l9 2" stroke="#6a5048" stroke-width="3.0" stroke-linecap="round" fill="none"/><path d="M66 58l7 1M54 65l6 2" stroke="#5a4038" stroke-width="2.5" stroke-linecap="round" fill="none"/><path d="M57 68l6 -1M77 51l5 2M73 64l6 2" stroke="#6a5048" stroke-width="2.5" stroke-linecap="round" fill="none"/><path d="M69 52l6 2" stroke="#2a2020" stroke-width="2.0" stroke-linecap="round" fill="none"/><path d="M58 59l9 -2" stroke="#5a4038" stroke-width="2.0" stroke-linecap="round" fill="none"/><path d="M67 54l7 3" stroke="#6a5048" stroke-width="2.0" stroke-linecap="round" fill="none"/><path d="M56 64l6 -2" stroke="#2a2020" stroke-width="2.5" stroke-linecap="round" fill="none"/><rect y="68" width="100" height="7" fill="#4a8a50"/><rect x="60" y="69" width="40" height="6" fill="#a8b040"/></svg></g><rect x="255.80" y="246.50" width="30.40" height="23.10" fill="none" stroke="#4a4038" stroke-width="1"/>
<g filter="url(#soft)"><svg x="294.40" y="246.00" width="30.70" height="24.10" viewBox="0 0 100 75" preserveAspectRatio="none"><rect width="100" height="75" fill="#8a8478"/><rect width="100" height="31" fill="#3aacdc"/><path d="M25 25l7 1M36 9l4 2M-1 10l6 3M11 19l6 -2" stroke="#d8ecf8" stroke-width="2.5" stroke-linecap="round" fill="none"/><path d="M7 22l8 4M83 9l9 -7" stroke="#ffffff" stroke-width="2.5" stroke-linecap="round" fill="none"/><path d="M34 16l8 -3M20 11l5 -1M30 7l8 -1" stroke="#2890d8" stroke-width="3.0" stroke-linecap="round" fill="none"/><path d="M78 23l7 -1M47 6l5 -4M35 19l8 5" stroke="#60b8f0" stroke-width="2.5" stroke-linecap="round" fill="none"/><path d="M57 11l6 1M53 30l5 -4" stroke="#80c8f0" stroke-width="3.0" stroke-linecap="round" fill="none"/><path d="M61 30l11 -4M42 22l6 0M64 25l7 -3" stroke="#60b8f0" stroke-width="3.0" stroke-linecap="round" fill="none"/><path d="M0 7l9 6M83 14l8 -6M41 23l8 -5M83 5l8 -3" stroke="#ffffff" stroke-width="3.0" stroke-linecap="round" fill="none"/><path d="M78 12l5 -1M-3 24l7 1" stroke="#d8ecf8" stroke-width="2.0" stroke-linecap="round" fill="none"/><path d="M30 4l11 -4" stroke="#80c8f0" stroke-width="2.5" stroke-linecap="round" fill="none"/><path d="M19 13l8 0M96 16l5 4M-2 5l8 4M95 27l8 3" stroke="#d8ecf8" stroke-width="3.0" stroke-linecap="round" fill="none"/><path d="M49 23l9 1M57 23l6 -2" stroke="#60b8f0" stroke-width="2.0" stroke-linecap="round" fill="none"/><path d="M2 7l6 3" stroke="#80c8f0" stroke-width="2.0" stroke-linecap="round" fill="none"/><path d="M81 23l7 0M89 12l12 1M22 12l10 4" stroke="#2890d8" stroke-width="2.5" stroke-linecap="round" fill="none"/><path d="M2 20l5 4" stroke="#ffffff" stroke-width="2.0" stroke-linecap="round" fill="none"/><path d="M84 9l4 3" stroke="#2890d8" stroke-width="2.0" stroke-linecap="round" fill="none"/><path d="M7 48l5 -0M25 58l6 -1M18 36l8 -1" stroke="#a89890" stroke-width="2.0" stroke-linecap="round" fill="none"/><path d="M24 50l7 -1M16 38l9 -0M23 52l9 -1M17 52l9 0M6 50l8 -1M11 37l6 -1M14 46l7 1" stroke="#c8b8a8" stroke-width="3.0" stroke-linecap="round" fill="none"/><path d="M-3 42l6 1M-2 53l6 -1" stroke="#a89890" stroke-width="3.5" stroke-linecap="round" fill="none"/><path d="M1 47l5 0M14 49l6 -1M5 35l4 -0" stroke="#605850" stroke-width="2.5" stroke-linecap="round" fill="none"/><path d="M24 47l7 -0M18 40l5 -0" stroke="#807468" stroke-width="3.5" stroke-linecap="round" fill="none"/><path d="M22 53l4 -1" stroke="#a89890" stroke-width="2.5" stroke-linecap="round" fill="none"/><path d="M-2 34l8 1M20 55l9 1M13 48l8 -0" stroke="#a89890" stroke-width="3.0" stroke-linecap="round" fill="none"/><path d="M21 39l6 1" stroke="#807468" stroke-width="4.0" stroke-linecap="round" fill="none"/><path d="M21 51l8 -0M15 48l5 -0" stroke="#e0d8d0" stroke-width="2.5" stroke-linecap="round" fill="none"/><path d="M9 36l6 1M5 48l8 -1M-1 44l9 -0" stroke="#a89890" stroke-width="4.0" stroke-linecap="round" fill="none"/><path d="M-4 53l8 0M18 52l5 -0" stroke="#605850" stroke-width="3.0" stroke-linecap="round" fill="none"/><path d="M27 45l5 0" stroke="#c8b8a8" stroke-width="2.5" stroke-linecap="round" fill="none"/><path d="M20 58l8 -0M7 35l9 1" stroke="#605850" stroke-width="3.5" stroke-linecap="round" fill="none"/><path d="M24 50l4 -0" stroke="#807468" stroke-width="3.0" stroke-linecap="round" fill="none"/><path d="M-2 33l5 -0" stroke="#c8b8a8" stroke-width="2.0" stroke-linecap="round" fill="none"/><path d="M24 31l7 -1" stroke="#605850" stroke-width="2.0" stroke-linecap="round" fill="none"/><path d="M25 35l8 0" stroke="#e0d8d0" stroke-width="2.0" stroke-linecap="round" fill="none"/><path d="M28 33 L34 30 L56 30 L58 38 L28 38Z" fill="#d86c40"/><path d="M62 34 L68 31 L88 31 L90 38 L62 38Z" fill="#dc7444"/><rect x="28" y="38" width="66" height="20" fill="#d8ccc0"/><path d="M82 39l5 0" stroke="#403830" stroke-width="3.0" stroke-linecap="round" fill="none"/><path d="M76 49l5 0M56 50l5 0" stroke="#989088" stroke-width="2.0" stroke-linecap="round" fill="none"/><path d="M74 53l4 -0M47 42l4 -0" stroke="#c8b8a0" stroke-width="3.5" stroke-linecap="round" fill="none"/><path d="M58 42l6 0M82 57l4 0" stroke="#f8f0e8" stroke-width="2.5" stroke-linecap="round" fill="none"/><path d="M86 52l7 1M64 38l4 -0" stroke="#c8b8a0" stroke-width="4.0" stroke-linecap="round" fill="none"/><path d="M62 56l4 0M84 45l6 0" stroke="#6a625a" stroke-width="4.0" stroke-linecap="round" fill="none"/><path d="M67 44l8 1M81 43l7 0" stroke="#f0e8e0" stroke-width="4.0" stroke-linecap="round" fill="none"/><path d="M51 56l8 -1M38 45l7 1" stroke="#c8b8a0" stroke-width="2.5" stroke-linecap="round" fill="none"/><path d="M91 55l5 -1M54 48l6 -1" stroke="#6a625a" stroke-width="3.5" stroke-linecap="round" fill="none"/><path d="M38 48l7 0" stroke="#403830" stroke-width="2.0" stroke-linecap="round" fill="none"/><path d="M64 45l6 1" stroke="#403830" stroke-width="4.0" stroke-linecap="round" fill="none"/><path d="M46 43l7 -1" stroke="#989088" stroke-width="3.0" stroke-linecap="round" fill="none"/><path d="M71 49l4 -0" stroke="#e09060" stroke-width="4.0" stroke-linecap="round" fill="none"/><path d="M31 45l5 1M52 45l7 0" stroke="#d87848" stroke-width="2.0" stroke-linecap="round" fill="none"/><path d="M54 57l5 1M72 52l5 0M89 57l6 1" stroke="#e09060" stroke-width="3.5" stroke-linecap="round" fill="none"/><path d="M37 38l6 1" stroke="#c8b8a0" stroke-width="2.0" stroke-linecap="round" fill="none"/><path d="M67 55l7 0" stroke="#f0e8e0" stroke-width="2.0" stroke-linecap="round" fill="none"/><path d="M27 44l8 1" stroke="#e09060" stroke-width="2.0" stroke-linecap="round" fill="none"/><path d="M78 55l4 -0M49 48l7 0" stroke="#d87848" stroke-width="3.0" stroke-linecap="round" fill="none"/><path d="M78 47l4 0" stroke="#e09060" stroke-width="3.0" stroke-linecap="round" fill="none"/><path d="M33 38l3 0" stroke="#f8f0e8" stroke-width="3.0" stroke-linecap="round" fill="none"/><path d="M55 41l4 -0" stroke="#a8a098" stroke-width="3.5" stroke-linecap="round" fill="none"/><path d="M32 51l4 -0" stroke="#a8a098" stroke-width="2.0" stroke-linecap="round" fill="none"/><path d="M88 41l4 -0" stroke="#a8a098" stroke-width="4.0" stroke-linecap="round" fill="none"/><path d="M43 47l5 -1" stroke="#d87848" stroke-width="2.5" stroke-linecap="round" fill="none"/><path d="M65 38l7 0M35 53l7 1" stroke="#a8a098" stroke-width="2.5" stroke-linecap="round" fill="none"/><path d="M67 58l4 -1M51 47l4 -0M68 55l5 -1" stroke="#989088" stroke-width="2.5" stroke-linecap="round" fill="none"/><path d="M37 57l8 0M32 38l6 1" stroke="#f8f0e8" stroke-width="3.5" stroke-linecap="round" fill="none"/><path d="M53 45l4 -0" stroke="#a8a098" stroke-width="3.0" stroke-linecap="round" fill="none"/><path d="M33 55l8 -1" stroke="#e09060" stroke-width="2.5" stroke-linecap="round" fill="none"/><path d="M64 45l7 -1M53 53l4 -0" stroke="#6a625a" stroke-width="3.0" stroke-linecap="round" fill="none"/><path d="M32 51l7 -1" stroke="#d87848" stroke-width="3.5" stroke-linecap="round" fill="none"/><path d="M89 45l7 1" stroke="#989088" stroke-width="3.5" stroke-linecap="round" fill="none"/><rect y="58" width="100" height="17" fill="#3c9038"/><path d="M92 70l11 -1M96 71l7 0M87 68l10 0M86 72l8 0" stroke="#3a8a30" stroke-width="2.5" stroke-linecap="round" fill="none"/><path d="M45 66l10 0M87 62l12 -1M35 64l12 0M44 70l7 0" stroke="#5ab048" stroke-width="2.0" stroke-linecap="round" fill="none"/><path d="M-1 59l10 1M95 65l8 -0M1 60l6 0" stroke="#7ac050" stroke-width="3.0" stroke-linecap="round" fill="none"/><path d="M60 73l6 -0" stroke="#1e4e20" stroke-width="2.0" stroke-linecap="round" fill="none"/><path d="M83 64l14 -1" stroke="#a0a090" stroke-width="2.5" stroke-linecap="round" fill="none"/><path d="M82 62l6 -0M39 67l11 1M55 63l9 0" stroke="#7ac050" stroke-width="2.5" stroke-linecap="round" fill="none"/><path d="M47 66l7 0M3 59l6 -0M25 73l7 0" stroke="#1e4e20" stroke-width="2.5" stroke-linecap="round" fill="none"/><path d="M53 71l7 -0M84 72l13 1" stroke="#5ab048" stroke-width="2.5" stroke-linecap="round" fill="none"/><path d="M-3 68l9 -0M36 69l8 0M40 70l13 0" stroke="#a0a090" stroke-width="2.0" stroke-linecap="round" fill="none"/><path d="M28 64l7 1" stroke="#7ac050" stroke-width="2.0" stroke-linecap="round" fill="none"/><path d="M70 69l10 1M29 62l7 0" stroke="#2a6a2a" stroke-width="3.0" stroke-linecap="round" fill="none"/><path d="M19 64l13 -0" stroke="#3a8a30" stroke-width="2.0" stroke-linecap="round" fill="none"/><path d="M76 68l12 -0" stroke="#3a8a30" stroke-width="3.0" stroke-linecap="round" fill="none"/><path d="M89 65l10 -1" stroke="#5ab048" stroke-width="3.0" stroke-linecap="round" fill="none"/></svg></g><rect x="294.90" y="246.50" width="29.70" height="23.10" fill="none" stroke="#3a3a3a" stroke-width="1"/>
<g filter="url(#soft)"><svg x="333.10" y="246.00" width="31.30" height="24.10" viewBox="0 0 100 75" preserveAspectRatio="none"><rect width="100" height="75" fill="#e0d4ea"/><path d="M53 67l9 -2M22 18l14 -5M1 32l9 -5M33 12l11 -3M56 71l13 -5M15 36l13 -6M75 62l12 -3M94 17l8 -3M68 9l14 -5M85 37l12 -6" stroke="#ffffff" stroke-width="2.5" stroke-linecap="round" fill="none"/><path d="M52 45l15 -4M2 36l14 -7M12 70l12 -4M86 5l7 -3M76 3l6 -2M38 66l11 -5" stroke="#98aee0" stroke-width="1.5" stroke-linecap="round" fill="none"/><path d="M49 15l8 -4M34 5l8 -3M12 49l10 -5M14 74l13 -5M84 15l12 -5M29 53l7 -2M13 68l10 -5M74 46l7 -2" stroke="#7a94d4" stroke-width="2.5" stroke-linecap="round" fill="none"/><path d="M65 61l10 -2M86 43l10 -3M44 5l12 -6M54 61l7 -3M70 71l7 -3M11 55l12 -3" stroke="#7a94d4" stroke-width="1.5" stroke-linecap="round" fill="none"/><path d="M60 31l11 -5M53 50l13 -5M3 2l7 -3M26 36l8 -4M6 38l8 -3M29 59l14 -6M79 46l11 -4M50 18l9 -4M83 45l13 -6M20 64l13 -4M19 46l14 -5M57 25l10 -5M-6 6l14 -5M36 18l7 -3M43 25l9 -2M33 24l11 -3M20 54l11 -5" stroke="#8ca4dc" stroke-width="2.5" stroke-linecap="round" fill="none"/><path d="M45 17l9 -4M59 18l13 -3M10 43l11 -4M10 55l10 -4M39 18l11 -5" stroke="#a8b8e8" stroke-width="1.5" stroke-linecap="round" fill="none"/><path d="M37 21l6 -2M20 5l13 -5M29 20l15 -5M95 13l7 -3M87 67l14 -7" stroke="#e0b4d6" stroke-width="2.5" stroke-linecap="round" fill="none"/><path d="M76 47l14 -4M-0 39l10 -4M61 71l13 -5M42 75l7 -4M71 57l7 -3M52 34l9 -3M50 25l9 -4M34 16l10 -5M27 71l6 -2M56 74l7 -2" stroke="#f8f2f8" stroke-width="2.0" stroke-linecap="round" fill="none"/><path d="M1 9l8 -3M88 75l11 -5M75 26l9 -3M79 57l8 -3M60 53l9 -4M6 56l11 -4M8 45l14 -4" stroke="#ffffff" stroke-width="1.5" stroke-linecap="round" fill="none"/><path d="M19 24l12 -6M-5 52l14 -6M77 47l13 -5M18 9l14 -5M66 56l15 -5M81 53l15 -5M65 25l11 -3M55 43l10 -4M82 39l12 -5M28 34l12 -4M61 58l6 -3" stroke="#d09ccc" stroke-width="2.5" stroke-linecap="round" fill="none"/><path d="M41 12l13 -5M-3 12l14 -4M21 69l8 -2M7 28l8 -3M36 63l14 -5" stroke="#f8f2f8" stroke-width="3.0" stroke-linecap="round" fill="none"/><path d="M76 46l6 -3M72 26l14 -4M71 25l6 -3M-2 34l13 -4M37 58l10 -4M87 5l12 -4M11 11l6 -3" stroke="#8ca4dc" stroke-width="2.0" stroke-linecap="round" fill="none"/><path d="M80 56l13 -4M35 6l7 -2M2 39l9 -4M62 7l7 -2M90 66l11 -3M73 37l11 -5M52 49l15 -6M37 50l14 -4" stroke="#d09ccc" stroke-width="1.5" stroke-linecap="round" fill="none"/><path d="M87 8l9 -3M38 8l6 -2M6 11l7 -3M26 36l7 -2M6 65l13 -4M31 25l8 -4M10 74l15 -4M66 36l7 -2" stroke="#f0cce2" stroke-width="2.5" stroke-linecap="round" fill="none"/><path d="M29 47l14 -5M35 20l15 -5M16 70l8 -2M86 14l8 -4M40 63l12 -4M46 18l15 -5M4 44l14 -5M77 35l14 -4" stroke="#ffffff" stroke-width="2.0" stroke-linecap="round" fill="none"/><path d="M23 33l6 -3M91 66l14 -6M48 52l10 -4M17 70l6 -3M44 71l14 -7M51 42l6 -2M92 45l11 -3M15 57l10 -3M27 66l12 -5M78 8l13 -6M44 33l11 -3M68 11l7 -3" stroke="#e0b4d6" stroke-width="2.0" stroke-linecap="round" fill="none"/><path d="M42 39l12 -4M86 50l7 -2M81 39l14 -7M89 22l9 -3M11 69l10 -5M91 17l14 -7" stroke="#e0b4d6" stroke-width="3.0" stroke-linecap="round" fill="none"/><path d="M39 46l11 -3M81 51l13 -5M4 31l11 -3M33 26l14 -6M66 56l11 -4M10 32l13 -3M12 72l10 -3M89 58l6 -2M36 14l14 -7M17 29l7 -3M48 69l10 -4M33 30l9 -3M15 60l10 -4M56 47l10 -4M39 74l14 -5" stroke="#7a94d4" stroke-width="2.0" stroke-linecap="round" fill="none"/><path d="M67 72l9 -4M83 71l11 -3M5 24l12 -5M89 70l14 -4" stroke="#98aee0" stroke-width="3.0" stroke-linecap="round" fill="none"/><path d="M24 22l9 -4M86 55l9 -4M50 73l7 -3M37 20l10 -3M43 40l11 -4M52 42l12 -4M51 45l11 -5M95 11l8 -4M22 45l14 -7M29 39l7 -3M41 8l12 -3M52 46l7 -2M45 12l14 -6M36 77l13 -4M9 60l8 -2M19 30l13 -7M8 22l10 -4M68 9l11 -3M9 45l15 -5" stroke="#a8b8e8" stroke-width="2.5" stroke-linecap="round" fill="none"/><path d="M13 62l8 -4M40 10l9 -3M2 28l8 -3M20 38l12 -5M62 15l13 -5M90 71l9 -3M-3 21l9 -4M89 73l13 -4M62 55l7 -2M35 30l12 -3M92 31l9 -3M6 66l10 -3" stroke="#f8f2f8" stroke-width="2.5" stroke-linecap="round" fill="none"/><path d="M82 38l8 -4M52 3l9 -4M37 20l12 -3M-2 36l15 -5M59 36l10 -3M14 69l10 -4M14 44l13 -3M24 4l6 -3M21 77l12 -5M-2 45l10 -3M44 27l7 -4M33 16l13 -6" stroke="#98aee0" stroke-width="2.0" stroke-linecap="round" fill="none"/><path d="M77 76l7 -2M88 29l9 -3" stroke="#8ca4dc" stroke-width="3.0" stroke-linecap="round" fill="none"/><path d="M78 50l9 -2M75 19l13 -6M8 65l14 -6M29 39l15 -5M62 23l14 -5M33 29l12 -5M34 34l7 -2M37 74l14 -6M90 23l8 -3M77 78l14 -6M52 4l11 -3" stroke="#a8b8e8" stroke-width="2.0" stroke-linecap="round" fill="none"/><path d="M48 24l11 -3M10 75l14 -4M-3 11l14 -5M56 48l13 -4M31 68l9 -4" stroke="#b8caee" stroke-width="3.0" stroke-linecap="round" fill="none"/><path d="M0 29l10 -4M-5 41l11 -3M38 23l7 -2M34 47l6 -2M83 54l10 -5M81 47l14 -6M65 40l14 -5M89 42l10 -3M11 67l13 -6M32 70l13 -7M48 77l11 -5M78 4l12 -4M42 5l13 -5M81 19l6 -2M75 14l12 -3" stroke="#98aee0" stroke-width="2.5" stroke-linecap="round" fill="none"/><path d="M16 52l11 -3M57 10l6 -3M42 40l9 -4M57 5l7 -2M39 6l9 -3M41 14l13 -4M46 65l10 -3M-2 57l11 -4" stroke="#8ca4dc" stroke-width="1.5" stroke-linecap="round" fill="none"/><path d="M35 20l6 -2M90 8l14 -6M76 58l10 -3M75 6l10 -5M85 34l8 -4M47 4l9 -3M92 61l11 -5M35 4l13 -4" stroke="#f0cce2" stroke-width="3.0" stroke-linecap="round" fill="none"/><path d="M0 10l13 -5M61 74l7 -3M64 31l6 -2M2 6l13 -4M0 61l11 -5M59 27l12 -6M91 12l14 -7M72 59l12 -3M30 32l8 -3M89 28l12 -5" stroke="#f0cce2" stroke-width="2.0" stroke-linecap="round" fill="none"/><path d="M40 19l12 -5M40 41l11 -5M25 20l10 -5M71 14l6 -3" stroke="#e0b4d6" stroke-width="1.5" stroke-linecap="round" fill="none"/><path d="M43 4l13 -6M72 64l10 -3M57 8l6 -2M35 12l10 -4M84 6l7 -3M73 54l11 -5M9 3l8 -3M89 44l9 -3M22 36l12 -5M63 61l6 -3" stroke="#b8caee" stroke-width="2.0" stroke-linecap="round" fill="none"/><path d="M47 51l6 -3M50 5l15 -6M85 34l9 -3M31 59l8 -2M14 70l6 -2" stroke="#d09ccc" stroke-width="3.0" stroke-linecap="round" fill="none"/><path d="M36 55l14 -4M95 8l6 -3M83 31l13 -4M2 17l9 -4M54 32l8 -4M-7 31l14 -6M60 6l11 -3M25 4l6 -2M48 76l8 -4M30 16l14 -5M14 40l12 -4" stroke="#b8caee" stroke-width="2.5" stroke-linecap="round" fill="none"/><path d="M73 4l12 -5M12 50l7 -2M64 50l12 -3" stroke="#f0cce2" stroke-width="1.5" stroke-linecap="round" fill="none"/><path d="M75 33l9 -4M62 31l13 -7M55 23l9 -2M61 11l6 -2M48 62l10 -4M44 59l6 -3" stroke="#d09ccc" stroke-width="2.0" stroke-linecap="round" fill="none"/><path d="M93 67l14 -6M62 56l6 -3M44 69l7 -3M27 67l14 -4M10 55l9 -3M52 55l12 -5" stroke="#b8caee" stroke-width="1.5" stroke-linecap="round" fill="none"/><path d="M16 19l11 -4M51 34l13 -6M17 16l9 -3M59 72l11 -3" stroke="#f8f2f8" stroke-width="1.5" stroke-linecap="round" fill="none"/><path d="M90 73l8 -3M60 36l9 -5M74 39l14 -7M32 4l9 -3" stroke="#7a94d4" stroke-width="3.0" stroke-linecap="round" fill="none"/><path d="M87 51l12 -6M77 56l9 -3" stroke="#a8b8e8" stroke-width="3.0" stroke-linecap="round" fill="none"/><path d="M74 77l14 -6M44 31l11 -5M53 29l9 -3M39 54l10 -4M88 51l6 -3" stroke="#ffffff" stroke-width="3.0" stroke-linecap="round" fill="none"/></svg></g><rect x="333.60" y="246.50" width="30.30" height="23.10" fill="none" stroke="#7a4050" stroke-width="1"/>
<g filter="url(#soft)"><svg x="372.60" y="246.00" width="31.30" height="24.10" viewBox="0 0 100 75" preserveAspectRatio="none"><rect width="100" height="75" fill="#88ac60"/><path d="M47 19l3 3M73 56l4 -5M22 62l4 -4M68 72l3 4M14 51l3 3M28 6l4 -0" stroke="#d8d890" stroke-width="4.0" stroke-linecap="round" fill="none"/><path d="M63 62l1 -3M67 51l5 -2M3 62l6 -2M28 60l2 4M33 19l3 -4M21 7l4 -3M84 33l7 0M28 4l2 -3M63 61l3 -5M44 19l5 3M12 5l7 0" stroke="#80b870" stroke-width="3.0" stroke-linecap="round" fill="none"/><path d="M34 12l4 6M98 46l3 2M45 20l5 3M41 70l6 1M61 31l4 3M-2 60l4 -2M49 34l3 -1M67 20l4 6M66 69l3 -3M80 54l6 -4M43 21l2 -2M6 61l3 3M13 74l7 2" stroke="#80b870" stroke-width="3.5" stroke-linecap="round" fill="none"/><path d="M75 71l3 -1M77 50l4 -0M84 8l7 -4M6 3l3 3M57 35l3 5M53 34l3 -3M26 65l6 3" stroke="#c8c060" stroke-width="3.5" stroke-linecap="round" fill="none"/><path d="M43 40l4 4M52 6l5 2M90 -2l2 5M4 51l2 -2M41 62l6 -1" stroke="#80b870" stroke-width="4.0" stroke-linecap="round" fill="none"/><path d="M63 36l3 2M51 73l7 2M39 11l6 -1M81 49l6 2M45 69l7 2M33 21l4 5M66 67l3 -5M75 26l5 -3M44 61l6 -1M43 26l4 -4M44 59l3 -2M-1 67l3 2M75 64l2 3" stroke="#c8c060" stroke-width="3.0" stroke-linecap="round" fill="none"/><path d="M59 33l3 1M70 37l3 0M-2 37l4 -6M90 55l2 3M96 64l4 -2" stroke="#a8c860" stroke-width="2.5" stroke-linecap="round" fill="none"/><path d="M10 22l4 -6M22 17l6 -0M68 60l4 5M42 17l3 -2M94 64l3 2M44 47l4 -0M11 5l5 4M34 56l4 4M43 2l8 -2M27 11l6 -1" stroke="#e8d050" stroke-width="3.5" stroke-linecap="round" fill="none"/><path d="M8 16l7 -0M36 32l3 1M28 36l3 -1M73 31l4 5M38 44l6 -1M36 59l4 -6M80 45l3 -2M12 18l4 -4M65 19l6 5M42 67l6 -0M46 23l2 -5M82 64l4 -2M86 39l2 3" stroke="#e0a030" stroke-width="3.5" stroke-linecap="round" fill="none"/><path d="M18 4l4 -5M24 54l4 4M61 36l3 -0M65 37l5 -2M96 10l2 -4" stroke="#e88a30" stroke-width="3.5" stroke-linecap="round" fill="none"/><path d="M86 31l3 5M53 15l4 -2M45 37l7 -3M66 43l2 -5M54 46l4 4M26 12l5 2M55 46l3 5M36 22l4 1" stroke="#2a7a58" stroke-width="3.0" stroke-linecap="round" fill="none"/><path d="M73 65l4 -2M6 45l4 5M69 29l3 -6M37 0l4 1M72 51l4 7M55 41l8 0M18 70l2 -6M0 18l4 6" stroke="#2a7a58" stroke-width="2.5" stroke-linecap="round" fill="none"/><path d="M88 19l4 1M50 43l4 -0M76 16l3 6M28 1l5 -1M2 17l2 -3M54 57l2 -3M19 54l4 3M95 19l4 2M84 3l4 -2" stroke="#e0a030" stroke-width="3.0" stroke-linecap="round" fill="none"/><path d="M3 7l6 6M66 30l4 -1M60 34l4 -1M32 75l4 1M6 57l7 -3M1 42l4 0M68 72l4 -3M65 7l6 0M90 72l3 -0M18 41l7 -1M9 22l2 -4" stroke="#d8d890" stroke-width="3.0" stroke-linecap="round" fill="none"/><path d="M90 40l2 6M92 31l5 4M77 70l2 -5M19 61l5 3M45 73l7 -1M17 32l3 -1M62 37l3 2M32 54l5 3M78 11l4 2M50 47l5 0M9 32l4 -4M56 71l6 1M76 39l2 -2" stroke="#2a7a58" stroke-width="3.5" stroke-linecap="round" fill="none"/><path d="M91 54l2 3M86 63l4 1M34 44l3 3M3 72l3 -6M68 42l5 -1M34 59l5 3M70 47l3 7M81 26l4 0M18 24l8 2" stroke="#c8c060" stroke-width="4.0" stroke-linecap="round" fill="none"/><path d="M55 8l1 3M14 46l3 3M27 47l3 4M68 21l7 4M50 2l4 -3M88 3l3 -2M55 5l2 4M58 24l5 2M66 65l3 4M66 48l5 -6" stroke="#d8d890" stroke-width="3.5" stroke-linecap="round" fill="none"/><path d="M70 57l2 -2M92 3l5 -3M74 -1l5 4M4 1l4 -1M5 62l7 3M73 18l6 -0M66 26l2 -6" stroke="#30a090" stroke-width="4.0" stroke-linecap="round" fill="none"/><path d="M63 75l3 -6M73 15l6 -3M12 28l6 3M46 64l5 6M64 27l7 -3M55 34l2 3" stroke="#50a860" stroke-width="4.0" stroke-linecap="round" fill="none"/><path d="M19 29l6 -1M3 46l4 -6M51 29l7 3M67 56l4 -6M35 21l4 5" stroke="#e88a30" stroke-width="4.0" stroke-linecap="round" fill="none"/><path d="M78 47l4 -2M58 32l2 -4M12 28l3 1M61 61l6 4M75 40l4 -3M58 59l5 -4M30 19l6 -4M81 50l3 -0M32 30l6 5" stroke="#30a090" stroke-width="3.5" stroke-linecap="round" fill="none"/><path d="M74 27l4 -5M34 59l7 -3M31 70l2 -4M94 23l4 -7M42 20l2 -5M4 74l4 -7" stroke="#e88a30" stroke-width="2.5" stroke-linecap="round" fill="none"/><path d="M1 39l3 3M21 70l1 3M48 47l2 -4M95 13l6 3M54 8l5 6M89 74l8 -0M89 73l6 3M95 5l5 3M27 55l3 -2M48 63l2 -5" stroke="#50a860" stroke-width="3.0" stroke-linecap="round" fill="none"/><path d="M12 56l6 0M37 26l3 1M-1 32l5 5M20 70l3 -1M3 28l4 -2M29 56l6 2M61 4l7 -4M25 72l4 -0" stroke="#30a090" stroke-width="3.0" stroke-linecap="round" fill="none"/><path d="M6 55l2 -2M33 16l3 1M53 26l6 -2M89 55l4 1M43 20l4 -5M54 52l6 -2M36 41l3 -4M14 33l6 5M28 32l4 5" stroke="#50a860" stroke-width="3.5" stroke-linecap="round" fill="none"/><path d="M9 22l2 -3M-0 26l3 -7M59 64l4 -4M49 16l4 3" stroke="#2a7a58" stroke-width="4.0" stroke-linecap="round" fill="none"/><path d="M67 61l5 6M29 28l5 1M17 35l4 -5M38 5l4 -3" stroke="#80b870" stroke-width="2.5" stroke-linecap="round" fill="none"/><path d="M52 48l8 1M52 69l8 -0M43 61l3 -5M29 52l3 0M8 56l2 -3" stroke="#e0a030" stroke-width="2.5" stroke-linecap="round" fill="none"/><path d="M84 11l3 4M75 63l4 -1M52 42l6 -1M46 2l2 3M67 13l5 -1M11 57l7 1M87 33l6 -2" stroke="#a8c860" stroke-width="3.5" stroke-linecap="round" fill="none"/><path d="M22 20l5 -2M10 0l5 2M21 43l3 7M32 51l3 -5M44 50l5 1M34 55l6 -5" stroke="#e8d050" stroke-width="2.5" stroke-linecap="round" fill="none"/><path d="M48 51l3 2M26 12l4 0M13 40l8 -1M42 70l2 -4M73 53l7 3M2 64l5 1M24 59l5 -0M67 42l5 -6M67 7l8 1" stroke="#d8d890" stroke-width="2.5" stroke-linecap="round" fill="none"/><path d="M37 44l5 5M48 23l4 -2M30 37l6 1M85 17l2 5M36 40l2 -3M84 9l5 -1M24 10l3 -1M95 69l2 -3M54 12l6 -2M61 39l2 3" stroke="#60b070" stroke-width="3.0" stroke-linecap="round" fill="none"/><path d="M23 40l4 1M50 10l7 -0M9 60l3 -2M41 37l3 -5M23 76l5 -4M47 10l3 -2M5 3l2 4" stroke="#a8c860" stroke-width="4.0" stroke-linecap="round" fill="none"/><path d="M78 39l6 3M74 41l2 5M66 16l6 1M13 34l2 -4M43 38l5 -1M24 20l3 -1M97 36l4 -4M10 16l1 3M72 55l3 2M-1 38l5 -0M38 11l6 2M87 7l3 4" stroke="#60b070" stroke-width="3.5" stroke-linecap="round" fill="none"/><path d="M-3 32l8 -0M78 3l6 2M53 3l5 -3M45 60l3 2M21 40l5 -1M37 65l2 3M59 45l5 6M44 76l5 -5" stroke="#30a090" stroke-width="2.5" stroke-linecap="round" fill="none"/><path d="M87 29l5 4M8 34l6 0M63 66l2 -5M77 31l5 3M82 49l5 -2M92 42l3 -2M45 35l6 -4M77 25l2 -5M64 35l4 -4M72 42l7 -0M16 37l3 -2M40 18l3 -2" stroke="#a8c860" stroke-width="3.0" stroke-linecap="round" fill="none"/><path d="M75 72l3 -2M48 71l7 5" stroke="#60b070" stroke-width="4.0" stroke-linecap="round" fill="none"/><path d="M78 -0l2 4M4 60l4 3M78 63l2 5M10 18l1 4M64 31l7 1M87 68l3 -4M34 42l7 2M26 69l5 -6M82 67l4 1M30 50l6 4M54 26l7 -3M95 42l6 -3M22 50l4 -1" stroke="#e88a30" stroke-width="3.0" stroke-linecap="round" fill="none"/><path d="M15 67l7 -1M81 54l3 -5M8 3l4 3M63 58l4 4M91 48l6 -1" stroke="#e0a030" stroke-width="4.0" stroke-linecap="round" fill="none"/><path d="M78 38l3 7M46 22l6 -2M44 19l3 -3M85 -0l4 1M33 57l4 -2M69 5l5 4M43 7l6 1M19 6l2 4" stroke="#e8d050" stroke-width="3.0" stroke-linecap="round" fill="none"/><path d="M46 63l4 -2M96 31l3 -4" stroke="#50a860" stroke-width="2.5" stroke-linecap="round" fill="none"/><path d="M92 58l7 3M89 75l4 0M95 15l2 3M8 11l4 7M95 33l4 6" stroke="#c8c060" stroke-width="2.5" stroke-linecap="round" fill="none"/><path d="M80 12l6 -3M3 32l7 -2M58 38l7 3" stroke="#60b070" stroke-width="2.5" stroke-linecap="round" fill="none"/><path d="M32 32l7 2M67 58l5 -3" stroke="#e8d050" stroke-width="4.0" stroke-linecap="round" fill="none"/></svg></g><rect x="373.10" y="246.50" width="30.30" height="23.10" fill="none" stroke="#3a4a3a" stroke-width="1"/>
<g filter="url(#soft)"><svg x="412.00" y="246.00" width="32.00" height="24.10" viewBox="0 0 100 75" preserveAspectRatio="none"><rect width="100" height="75" fill="#e0c060"/><path d="M54 66l3 3M69 47l5 -3M30 54l8 -0M71 46l6 -1M27 33l4 -5M65 71l4 4M66 66l6 -1M3 2l5 2M53 14l4 5M92 59l6 4M75 62l2 -3M44 24l8 1M88 46l6 3M6 74l6 0M57 26l3 6M92 7l5 -2M93 10l4 2M18 70l5 0M40 31l4 0M72 41l6 -4M80 29l5 0M48 35l2 5" stroke="#f0e0a0" stroke-width="3.5" stroke-linecap="round" fill="none"/><path d="M82 71l3 -1M77 5l6 -2M8 69l2 -3M30 41l4 -6M71 45l6 5M55 11l2 3M25 37l4 4M14 50l4 -6M20 62l6 -0M42 7l8 0M18 16l3 6M41 27l2 2" stroke="#30b0a0" stroke-width="3.0" stroke-linecap="round" fill="none"/><path d="M19 54l3 -4M72 8l3 -2M32 6l5 6M79 -1l6 2M68 67l6 -2M51 54l2 -3M67 14l2 -2M16 44l3 1M55 64l2 -3M32 26l3 4M86 12l2 4M18 24l3 -2M45 15l6 3M44 62l1 -3M83 0l4 2M-3 56l8 -0M-0 23l2 -3M81 9l7 3" stroke="#e8902a" stroke-width="3.5" stroke-linecap="round" fill="none"/><path d="M40 19l3 6M38 6l4 2M90 43l5 1M61 30l4 -2M94 13l3 2M21 50l6 -5M33 10l3 7M33 23l4 3M19 51l3 -2M15 50l3 -1M25 37l2 5M13 32l6 2M82 25l6 2" stroke="#f8e070" stroke-width="3.0" stroke-linecap="round" fill="none"/><path d="M18 60l4 6M70 3l4 -3M89 60l7 2M20 50l5 5M27 66l4 -1M24 70l4 4" stroke="#e87a20" stroke-width="2.5" stroke-linecap="round" fill="none"/><path d="M12 73l4 -2M86 6l3 0M21 57l3 2M32 53l2 6M16 35l4 -2M60 41l3 -0M24 33l6 -5M82 26l4 1M87 37l5 -6M39 60l4 6M91 14l3 -1" stroke="#f0c030" stroke-width="3.0" stroke-linecap="round" fill="none"/><path d="M-0 46l3 -0M2 17l1 -3M20 56l4 6M85 30l3 -6M11 35l2 -3M36 27l6 -3M-1 9l4 -4M18 74l5 -6M77 5l6 -1M24 19l5 -6M47 57l6 6M91 49l7 -1M72 9l5 2M9 37l6 3M93 43l5 -3" stroke="#30b0a0" stroke-width="3.5" stroke-linecap="round" fill="none"/><path d="M24 67l5 -4M57 64l4 -0M38 46l4 5M46 16l3 -4M18 4l3 -6M92 64l4 4M83 2l6 0M14 6l5 2M87 27l7 1M87 56l4 2M74 36l6 0" stroke="#f8e070" stroke-width="3.5" stroke-linecap="round" fill="none"/><path d="M54 -2l2 5M43 41l3 -1M56 74l3 1M47 23l4 -2M-2 15l7 2" stroke="#f8e070" stroke-width="2.5" stroke-linecap="round" fill="none"/><path d="M78 45l4 2M49 3l4 -2M73 9l6 2M25 39l6 -4M44 46l3 2M17 69l8 -1M8 72l3 -5" stroke="#2a9a8a" stroke-width="3.5" stroke-linecap="round" fill="none"/><path d="M94 74l6 -0M32 20l4 -3M22 57l6 5M63 71l5 4M52 59l4 -4M82 76l5 -6M82 51l1 3M90 35l5 -3M78 -1l2 4M30 72l3 -2M72 53l6 -1" stroke="#e87a20" stroke-width="3.0" stroke-linecap="round" fill="none"/><path d="M68 12l3 4M37 32l6 -2M62 15l4 -2M27 65l5 -4M84 25l3 -5M60 9l3 2M20 54l3 6M28 71l4 -3M74 59l4 -3M28 29l5 -2M14 74l5 -2M22 6l3 4" stroke="#2a9a8a" stroke-width="3.0" stroke-linecap="round" fill="none"/><path d="M68 27l2 4M97 42l2 -3M76 49l4 5M60 72l3 -7M0 -1l2 2M1 57l4 3" stroke="#f8f0c0" stroke-width="2.5" stroke-linecap="round" fill="none"/><path d="M10 29l4 -2M23 11l5 1M29 72l5 -3M51 28l6 -3M56 51l3 5M78 59l3 -2M6 17l3 4M24 10l5 -5M11 46l5 2M17 19l5 -1" stroke="#a8c850" stroke-width="3.0" stroke-linecap="round" fill="none"/><path d="M42 43l5 4M10 2l3 2M6 72l4 2M86 63l6 4M90 73l2 2M43 3l5 -3M78 36l2 3M83 74l3 1M69 12l6 -2M36 41l3 2M93 15l3 -1" stroke="#e8902a" stroke-width="3.0" stroke-linecap="round" fill="none"/><path d="M13 48l4 -4M91 66l6 1M15 30l4 5M20 75l6 -1M45 -1l3 1M95 48l3 -4" stroke="#f0e0a0" stroke-width="2.5" stroke-linecap="round" fill="none"/><path d="M17 42l4 7M85 39l5 -5M83 6l3 7M93 66l3 -3M72 69l4 -1M-2 38l7 -1M37 3l6 4M13 65l3 0M51 12l4 3M5 21l3 -2M38 72l3 -4" stroke="#f8f0c0" stroke-width="3.0" stroke-linecap="round" fill="none"/><path d="M24 15l2 4M39 71l6 1M44 25l4 2M70 28l4 -2M66 68l7 -2M78 28l3 -4M53 21l4 6M27 71l3 -1M53 46l1 -3M75 73l4 4M88 41l5 -5M33 68l3 -6" stroke="#a8c850" stroke-width="3.5" stroke-linecap="round" fill="none"/><path d="M92 5l3 1M69 50l2 4M68 10l4 -1M40 11l4 -4M38 23l6 1M95 36l2 4" stroke="#e8902a" stroke-width="2.5" stroke-linecap="round" fill="none"/><path d="M48 21l5 1M13 50l7 1M69 50l2 -3M10 45l6 -2M93 54l5 3M24 58l7 -0M11 19l5 -1M29 46l1 4" stroke="#a8c850" stroke-width="2.5" stroke-linecap="round" fill="none"/><path d="M8 72l4 -2M19 39l4 -5M22 45l5 -3M68 42l6 1M36 25l6 5M69 35l6 4M88 64l8 2M27 28l3 -3" stroke="#30b0a0" stroke-width="2.5" stroke-linecap="round" fill="none"/><path d="M83 63l2 3M13 61l3 5M55 49l2 -3M35 16l7 -0M74 26l6 -3M68 62l6 -0M70 37l5 4" stroke="#e87a20" stroke-width="3.5" stroke-linecap="round" fill="none"/><path d="M18 26l5 0M47 38l5 5M71 67l5 -0M8 31l3 -5M39 -1l3 5M38 72l7 -0M52 61l2 -3M41 50l6 2" stroke="#f0c030" stroke-width="2.5" stroke-linecap="round" fill="none"/><path d="M34 72l7 -0M15 75l5 -1M22 61l2 2M44 34l1 3M90 69l4 -1M3 70l2 4" stroke="#a8c850" stroke-width="4.0" stroke-linecap="round" fill="none"/><path d="M4 55l7 2M53 17l3 -1M83 20l6 5M71 27l2 4M53 60l7 0M28 3l7 3" stroke="#f0c030" stroke-width="4.0" stroke-linecap="round" fill="none"/><path d="M73 37l4 -7M71 28l5 -0M21 46l5 4M14 4l7 3M63 42l5 -3M94 17l5 -2M71 33l3 7M40 71l4 -3M94 62l2 3M31 2l6 1M9 73l7 1M42 24l4 -6M96 29l3 -1M40 61l6 -3M71 42l3 1M66 50l3 2" stroke="#f0c030" stroke-width="3.5" stroke-linecap="round" fill="none"/><path d="M34 47l3 -6M18 49l5 3M13 53l5 -6" stroke="#f0e0a0" stroke-width="4.0" stroke-linecap="round" fill="none"/><path d="M71 11l5 1M91 58l7 -2M43 3l3 -3M14 45l1 -3M74 33l2 -3" stroke="#e8902a" stroke-width="4.0" stroke-linecap="round" fill="none"/><path d="M20 1l2 6M82 0l4 3M77 39l4 6M69 5l3 6M93 14l5 -1M6 30l3 1M90 49l2 -4M73 64l3 2M38 41l4 -1M45 43l5 -5M32 72l3 -0M80 75l4 -4" stroke="#f0e0a0" stroke-width="3.0" stroke-linecap="round" fill="none"/><path d="M5 46l3 4M35 66l6 4M7 50l5 0M91 7l6 2M75 42l6 -2M17 7l3 2M88 13l4 4M78 47l3 2M83 45l1 -3M53 46l7 -1M84 58l2 -4M77 36l4 6" stroke="#f8f0c0" stroke-width="3.5" stroke-linecap="round" fill="none"/><path d="M57 2l6 4M18 70l5 0M36 17l6 -2M79 53l4 2M76 9l6 -2M94 0l4 1M37 6l7 -1" stroke="#2a9a8a" stroke-width="4.0" stroke-linecap="round" fill="none"/><path d="M58 73l3 -1M43 16l4 6M42 39l6 0M55 53l4 -2M60 21l5 1M3 1l2 4M25 48l5 -2" stroke="#f8f0c0" stroke-width="4.0" stroke-linecap="round" fill="none"/><path d="M81 25l3 -3M55 0l4 4" stroke="#e87a20" stroke-width="4.0" stroke-linecap="round" fill="none"/><path d="M21 11l4 -0M44 32l4 -7" stroke="#f8e070" stroke-width="4.0" stroke-linecap="round" fill="none"/><path d="M40 30l4 -2M95 10l2 3M60 61l4 -3" stroke="#30b0a0" stroke-width="4.0" stroke-linecap="round" fill="none"/><path d="M47 34l3 -3M43 37l4 -4M63 25l6 1" stroke="#2a9a8a" stroke-width="2.5" stroke-linecap="round" fill="none"/></svg></g><rect x="412.50" y="246.50" width="31.00" height="23.10" fill="none" stroke="#8a6a2a" stroke-width="1"/>
<g filter="url(#soft)"><svg x="452.10" y="246.00" width="30.50" height="24.10" viewBox="0 0 100 75" preserveAspectRatio="none"><rect width="100" height="75" fill="#a0d8a8"/><path d="M53 50l13 -4M49 66l25 7M89 71l18 5M69 44l22 5M1 25l21 5M0 26l20 5M-2 46l19 9M11 12l19 -1M30 71l27 -5M5 33l16 8M9 41l12 5M84 23l22 4" stroke="#e8a850" stroke-width="2.0" stroke-linecap="round" fill="none"/><path d="M48 0l25 -1M2 51l17 5M1 11l20 1M28 62l10 1M53 36l20 -6M57 16l19 -7M66 37l17 4M41 71l10 -0M74 1l24 10" stroke="#2a98a8" stroke-width="2.5" stroke-linecap="round" fill="none"/><path d="M60 68l20 2M42 59l19 8M61 24l20 6M35 49l21 -0M-5 39l11 -0M41 68l18 -6M67 32l22 -2M13 40l17 -3" stroke="#a8e0c0" stroke-width="2.0" stroke-linecap="round" fill="none"/><path d="M43 8l10 3M60 27l17 -7" stroke="#a8e0c0" stroke-width="3.0" stroke-linecap="round" fill="none"/><path d="M56 15l23 -5M40 50l12 -4M85 10l14 4M-4 7l15 4M59 27l27 -1M28 61l13 -5M35 51l24 -1M20 15l12 -3M25 1l10 -2M-3 26l10 -4M17 38l13 -5M-2 47l18 0M13 55l14 -4" stroke="#80d4b8" stroke-width="2.0" stroke-linecap="round" fill="none"/><path d="M43 65l14 -2M62 6l15 2M50 35l22 -9M24 61l24 3M51 4l17 1M24 19l26 6M56 47l25 8M76 34l16 -4M3 60l20 -8M41 46l22 1" stroke="#e8d890" stroke-width="2.5" stroke-linecap="round" fill="none"/><path d="M54 36l22 2M90 51l19 8M37 66l18 5M72 57l26 8" stroke="#e8f4c8" stroke-width="3.0" stroke-linecap="round" fill="none"/><path d="M16 75l28 -2M2 53l24 -10M44 11l17 7M40 68l27 9M8 54l16 1M85 60l20 6M71 9l18 7M13 41l12 2M84 18l24 8M32 17l18 3M72 13l16 6M21 62l26 4M45 52l21 -0M7 63l13 -6" stroke="#e8f4c8" stroke-width="2.0" stroke-linecap="round" fill="none"/><path d="M63 12l20 2M63 57l26 4M60 20l15 0M43 7l20 0M60 59l17 -3M-4 29l20 -3M4 67l18 -2" stroke="#90d070" stroke-width="2.0" stroke-linecap="round" fill="none"/><path d="M8 40l26 -6M60 35l16 -5" stroke="#a8e0c0" stroke-width="1.5" stroke-linecap="round" fill="none"/><path d="M70 67l12 -2M11 50l11 3M58 21l26 10M82 45l20 -8M55 45l19 7M60 23l12 -2M51 4l24 11M10 68l12 -5M79 40l13 1M68 66l17 -3M47 58l15 -3M18 20l11 4M53 15l10 1M37 1l19 2M40 25l17 -1M71 54l24 -3M-8 51l21 3M51 75l21 -4M78 49l15 -6" stroke="#80d4b8" stroke-width="2.5" stroke-linecap="round" fill="none"/><path d="M63 47l13 -4M83 72l20 3M4 27l19 -0M61 20l26 1M93 69l14 -4M78 69l13 0" stroke="#90d070" stroke-width="3.0" stroke-linecap="round" fill="none"/><path d="M11 43l14 3M58 47l18 7M61 6l14 -1M74 42l16 2M8 41l10 -1M46 68l14 -5M59 30l11 1M37 62l12 -5M52 48l21 -7" stroke="#b0e080" stroke-width="2.5" stroke-linecap="round" fill="none"/><path d="M46 72l24 -4M72 56l19 -8M51 48l20 -8M53 39l19 5M-7 20l17 5M32 17l13 -5" stroke="#40b0b8" stroke-width="2.5" stroke-linecap="round" fill="none"/><path d="M64 22l26 -2M74 7l14 3M65 15l21 -8M29 11l10 4M66 48l15 -4M74 66l22 5M49 24l24 4M56 9l23 10" stroke="#a8e0c0" stroke-width="2.5" stroke-linecap="round" fill="none"/><path d="M55 33l18 3M84 27l20 -3M-1 71l27 6M25 67l12 -4M-0 42l14 -6M44 27l22 -1M54 38l22 -9M46 59l21 4" stroke="#e8f4c8" stroke-width="2.5" stroke-linecap="round" fill="none"/><path d="M82 44l27 -3M-2 71l25 -11M-3 26l13 -4M-6 37l16 -7M88 26l12 -5M34 10l22 -6M64 66l12 -4M81 25l13 0" stroke="#60c8d0" stroke-width="2.0" stroke-linecap="round" fill="none"/><path d="M42 4l25 -3M57 65l22 -1M27 26l14 -6M11 32l11 -3" stroke="#e8f4c8" stroke-width="1.5" stroke-linecap="round" fill="none"/><path d="M24 29l13 -6M75 19l25 -5M16 6l16 -2M37 39l20 1M58 38l26 7M69 44l17 8M21 58l23 10M86 73l22 -6M-0 17l27 4M21 50l20 -1M45 18l19 -4M-4 54l24 11" stroke="#e8a850" stroke-width="2.5" stroke-linecap="round" fill="none"/><path d="M-4 38l20 4M90 8l16 0M25 34l19 8M18 49l14 -4M45 41l23 6M40 51l11 -1M84 63l23 6M17 27l17 -4" stroke="#60c8d0" stroke-width="2.5" stroke-linecap="round" fill="none"/><path d="M86 41l13 6M-4 31l16 -1M55 18l10 2M50 22l10 2M27 53l16 7M24 53l16 -0M49 73l10 -3" stroke="#b0e080" stroke-width="2.0" stroke-linecap="round" fill="none"/><path d="M27 39l16 6M13 46l15 -5M24 52l14 -1" stroke="#90d070" stroke-width="2.5" stroke-linecap="round" fill="none"/><path d="M79 28l13 3M4 2l14 0M65 4l21 4M14 47l18 2M69 67l25 6M77 21l10 1M1 5l14 -2M91 65l12 -0M83 44l26 -10" stroke="#c8eca0" stroke-width="2.0" stroke-linecap="round" fill="none"/><path d="M90 55l12 -4M-11 25l25 -6" stroke="#b0e080" stroke-width="3.0" stroke-linecap="round" fill="none"/><path d="M66 31l25 -7M-9 54l20 6M29 51l20 1M18 -1l24 4M52 12l17 7M88 53l22 9M-3 6l9 -4M66 65l21 -5M58 51l13 0" stroke="#2a98a8" stroke-width="1.5" stroke-linecap="round" fill="none"/><path d="M-5 27l20 -3M78 52l19 9" stroke="#b0e080" stroke-width="1.5" stroke-linecap="round" fill="none"/><path d="M74 19l23 -1M8 71l10 -2M87 56l24 -6M24 78l18 -6M61 20l16 -1M38 38l17 -3" stroke="#e8d890" stroke-width="2.0" stroke-linecap="round" fill="none"/><path d="M21 15l27 -2M63 63l14 3M84 15l23 7M88 1l12 5M88 60l14 1M62 2l23 10M50 54l14 -2" stroke="#e8a850" stroke-width="3.0" stroke-linecap="round" fill="none"/><path d="M29 25l13 -5M29 -3l21 8M23 14l18 5M30 53l11 2M63 63l15 -2M72 72l18 -3M-6 66l17 -1" stroke="#80d4b8" stroke-width="1.5" stroke-linecap="round" fill="none"/><path d="M23 51l11 -3M47 14l21 6M60 60l22 -5M57 3l12 -2M35 77l26 -10M14 78l21 -9" stroke="#2a98a8" stroke-width="2.0" stroke-linecap="round" fill="none"/><path d="M58 66l20 -2M32 43l15 -1M61 26l25 4M92 57l12 1M-12 21l25 6M48 39l13 1M33 57l25 4M37 71l24 8" stroke="#40b0b8" stroke-width="2.0" stroke-linecap="round" fill="none"/><path d="M67 18l14 -0M80 63l14 -4M20 6l12 2" stroke="#2a98a8" stroke-width="3.0" stroke-linecap="round" fill="none"/><path d="M52 34l13 5M41 6l13 2M74 47l15 -6M28 25l18 -2M68 39l20 -1" stroke="#e8d890" stroke-width="1.5" stroke-linecap="round" fill="none"/><path d="M64 63l23 7M85 45l25 -8M90 32l18 -4" stroke="#60c8d0" stroke-width="1.5" stroke-linecap="round" fill="none"/><path d="M78 41l10 1M0 66l11 4M-1 54l11 0M40 10l14 -5M85 40l21 3" stroke="#e8a850" stroke-width="1.5" stroke-linecap="round" fill="none"/><path d="M32 62l27 -0M34 60l21 0M57 29l26 -4M39 45l13 -4M47 35l16 0" stroke="#c8eca0" stroke-width="3.0" stroke-linecap="round" fill="none"/><path d="M83 48l27 3M27 13l15 -1" stroke="#90d070" stroke-width="1.5" stroke-linecap="round" fill="none"/><path d="M19 22l23 -10M16 46l18 -7M-5 60l24 -9M4 45l21 -8M82 56l21 4M35 14l21 5M87 52l15 6" stroke="#c8eca0" stroke-width="2.5" stroke-linecap="round" fill="none"/><path d="M34 14l18 -3M64 28l23 -2M8 32l15 2M17 14l15 6M45 25l15 3" stroke="#c8eca0" stroke-width="1.5" stroke-linecap="round" fill="none"/><path d="M34 9l25 3" stroke="#40b0b8" stroke-width="1.5" stroke-linecap="round" fill="none"/><path d="M0 71l24 -7M22 73l14 1M68 55l26 7" stroke="#80d4b8" stroke-width="3.0" stroke-linecap="round" fill="none"/><path d="M63 64l18 -4M67 47l20 8" stroke="#40b0b8" stroke-width="3.0" stroke-linecap="round" fill="none"/><path d="M59 39l20 6M52 4l25 0" stroke="#60c8d0" stroke-width="3.0" stroke-linecap="round" fill="none"/><path d="M64 68l14 0M39 7l13 1" stroke="#e8d890" stroke-width="3.0" stroke-linecap="round" fill="none"/></svg></g><rect x="452.60" y="246.50" width="29.50" height="23.10" fill="none" stroke="#0e4a5a" stroke-width="1"/>
<g filter="url(#soft)"><svg x="491.00" y="246.00" width="31.20" height="24.10" viewBox="0 0 100 75" preserveAspectRatio="none"><rect width="100" height="75" fill="#5aa030"/><path d="M34 65l7 2M97 -0l2 2M20 62l5 0M69 21l4 -5M6 12l7 0M15 52l7 2M69 65l5 1M87 40l4 -3M3 -1l5 4M15 18l6 0M32 59l5 4" stroke="#6ab040" stroke-width="3.0" stroke-linecap="round" fill="none"/><path d="M46 24l4 5M15 30l5 5M71 3l5 4M91 17l6 -1M79 61l3 -2M39 23l2 3M37 36l3 1M83 17l2 -3M88 74l2 -4M22 68l5 -3M7 14l2 -4M84 26l5 5M-0 7l4 -1M42 44l4 -3" stroke="#a8c030" stroke-width="3.0" stroke-linecap="round" fill="none"/><path d="M18 47l4 2M38 11l4 5M85 9l3 2M45 49l5 -0M59 24l4 6M95 1l5 4M41 61l2 -3M35 56l3 -2M39 32l4 7M65 60l7 -4M82 11l6 -5M1 47l3 -7M54 43l4 6" stroke="#98c050" stroke-width="3.0" stroke-linecap="round" fill="none"/><path d="M91 16l1 -3M58 64l8 -2M51 73l4 -0M81 19l3 7M21 55l2 -3M26 28l7 -0M4 38l5 5M63 16l3 -2M62 48l3 -5M29 41l4 -7" stroke="#2a8a2a" stroke-width="4.0" stroke-linecap="round" fill="none"/><path d="M53 31l5 -1M84 44l4 4M36 72l3 -4M71 51l4 5M46 24l7 -0M71 22l6 1" stroke="#1a6a20" stroke-width="4.0" stroke-linecap="round" fill="none"/><path d="M68 55l2 -3M3 17l3 -7M89 15l7 -0M38 66l2 -4M26 10l4 0M2 65l5 -3M11 23l7 -4M62 34l8 1M68 37l4 -5M31 25l5 -4" stroke="#88bc40" stroke-width="3.0" stroke-linecap="round" fill="none"/><path d="M88 68l5 -4M11 52l2 2M96 25l2 -5M44 62l2 -3M68 61l4 4M11 54l2 -3" stroke="#98c050" stroke-width="2.5" stroke-linecap="round" fill="none"/><path d="M61 40l3 4" stroke="#c0c040" stroke-width="4.0" stroke-linecap="round" fill="none"/><path d="M60 36l3 -6M15 36l8 -1M24 33l5 -3M94 6l3 3M74 17l4 0M36 11l5 -6M42 3l1 3M8 24l6 -2M8 14l4 -2M32 63l2 5M26 34l3 -3M59 63l2 6M16 15l3 -1M4 56l7 -3M9 14l3 1M63 69l2 3M90 45l3 1M86 77l6 -6" stroke="#4a9a30" stroke-width="3.5" stroke-linecap="round" fill="none"/><path d="M21 51l1 -3M73 56l5 1M29 25l6 2M15 39l6 1M26 45l4 -4M50 3l2 4M72 6l4 -4M43 46l4 -4M14 76l6 -3M37 53l4 -2M25 49l3 -2M42 10l6 5M8 1l2 4M1 44l4 1" stroke="#c0c040" stroke-width="3.5" stroke-linecap="round" fill="none"/><path d="M74 43l5 -4M21 11l6 -4M22 70l5 4M24 27l4 1M5 16l5 -1M77 36l4 -0M-2 69l4 -1M67 14l2 -5M92 1l8 -1M65 55l5 5M38 74l7 -3M76 31l4 -1M12 46l4 6M10 32l2 -5" stroke="#98c050" stroke-width="3.5" stroke-linecap="round" fill="none"/><path d="M73 44l5 3M97 32l3 1M53 51l3 -2M44 71l6 1M36 46l7 -3M4 19l2 -4M90 54l3 -2M78 13l5 -3M84 36l3 -5M11 11l4 -3M9 44l3 3" stroke="#1a6a20" stroke-width="2.5" stroke-linecap="round" fill="none"/><path d="M23 66l4 -1M6 36l4 1M96 29l3 -3M10 74l6 -3M24 44l6 4M8 42l5 -5M66 69l4 -0" stroke="#98c050" stroke-width="4.0" stroke-linecap="round" fill="none"/><path d="M21 65l5 0M84 39l4 1M84 65l6 2M15 28l2 -2M81 30l6 -3M38 56l4 5M84 67l3 -6M30 17l4 -4M39 61l6 -3M45 11l3 2M48 64l3 4M63 56l4 3M25 66l4 3M-3 72l7 3M19 8l2 -6M78 39l5 1M86 23l7 3M86 46l3 5M48 77l6 -5" stroke="#3aa040" stroke-width="3.0" stroke-linecap="round" fill="none"/><path d="M80 10l5 4M47 67l6 1M27 1l3 2M62 26l7 3M51 59l5 -1M38 40l2 3M27 16l6 4M5 56l2 -4M58 69l6 -2M44 53l4 6" stroke="#a8c030" stroke-width="2.5" stroke-linecap="round" fill="none"/><path d="M41 75l4 -2M30 26l5 -3M40 10l3 -7M12 8l4 -3M88 46l2 -3M20 13l5 3M63 11l7 -1M44 55l3 6M70 63l4 -5M67 7l4 -7" stroke="#4a9a30" stroke-width="3.0" stroke-linecap="round" fill="none"/><path d="M79 14l7 -2M-2 69l3 -6M27 7l2 3M13 62l6 1M32 24l3 1M68 22l6 4M31 34l8 -1" stroke="#6ab040" stroke-width="4.0" stroke-linecap="round" fill="none"/><path d="M4 31l5 6M14 22l3 -3M57 35l3 -7M26 53l4 6M33 55l6 4M81 55l4 -6M68 28l4 6M87 11l3 6M19 72l5 2M63 7l5 -0M79 52l4 5M62 66l4 6M82 61l2 -3M28 41l6 2M92 5l4 0" stroke="#1a6a20" stroke-width="3.0" stroke-linecap="round" fill="none"/><path d="M56 26l5 3M79 7l5 -4M5 59l4 1M50 8l4 -3M77 23l3 -2M3 15l4 4M46 57l5 4M91 50l7 -1M32 67l3 -7M14 54l3 2M92 32l4 2M76 62l8 1M57 26l5 2M32 76l5 -5" stroke="#6ab040" stroke-width="3.5" stroke-linecap="round" fill="none"/><path d="M8 15l3 -2M46 72l2 4M16 55l7 -2M10 71l7 1M50 46l7 -3M75 23l5 -2M1 68l3 -2M87 27l2 6" stroke="#88bc40" stroke-width="4.0" stroke-linecap="round" fill="none"/><path d="M6 20l4 4M84 52l4 -2M27 32l3 -2M31 54l4 6M60 72l3 0M70 9l3 -5" stroke="#3aa040" stroke-width="4.0" stroke-linecap="round" fill="none"/><path d="M16 36l5 6M58 71l5 -6M81 48l5 -2M59 32l3 4M65 66l6 1M56 37l2 3" stroke="#88bc40" stroke-width="2.5" stroke-linecap="round" fill="none"/><path d="M93 57l4 1M22 10l4 3M39 6l4 -0M45 28l5 6M91 58l5 -3M49 64l6 -4M32 69l3 -1M8 3l4 -3M33 59l6 -3M58 6l2 4M62 13l7 1M48 36l5 -2" stroke="#1a6a20" stroke-width="3.5" stroke-linecap="round" fill="none"/><path d="M22 59l5 -5M56 67l6 -1M10 72l5 1M67 14l6 -5M19 68l2 -4M88 65l6 2M4 51l4 3M17 12l2 -4M82 -0l5 4M8 29l2 -5" stroke="#2a8a2a" stroke-width="3.0" stroke-linecap="round" fill="none"/><path d="M24 10l7 3M4 19l3 3M65 59l5 -2M26 58l6 5M26 58l5 5M50 10l6 1M58 7l5 -5M81 72l5 -4M18 22l6 2" stroke="#c0c040" stroke-width="3.0" stroke-linecap="round" fill="none"/><path d="M55 34l7 2M63 15l5 -0M73 60l6 1M51 70l3 -1M62 75l2 -5M47 17l3 -2M88 -3l4 6M41 27l3 1M30 25l4 -7" stroke="#a8c030" stroke-width="4.0" stroke-linecap="round" fill="none"/><path d="M46 27l5 -4M-1 58l3 3M60 39l6 1M61 72l4 4" stroke="#c0c040" stroke-width="2.5" stroke-linecap="round" fill="none"/><path d="M58 73l3 3M42 70l4 -5M60 64l7 1M13 51l4 4M22 65l4 -1M10 17l2 5M88 63l6 -5M62 43l5 -3M58 49l6 5M62 1l2 3M64 38l6 3M41 23l2 3M30 41l4 2" stroke="#88bc40" stroke-width="3.5" stroke-linecap="round" fill="none"/><path d="M38 57l5 5M65 47l6 2M46 11l4 3" stroke="#6ab040" stroke-width="2.5" stroke-linecap="round" fill="none"/><path d="M25 20l8 0M87 54l3 4M57 49l5 -1M85 9l3 1M29 5l4 1M6 45l7 -1M21 33l7 -1M11 6l3 -2M15 47l2 -3M30 67l2 -6M89 71l5 3M60 39l3 -2" stroke="#2a8a2a" stroke-width="3.5" stroke-linecap="round" fill="none"/><path d="M2 2l6 4M82 64l3 -3M17 17l2 -3M55 73l4 -1M21 37l3 -3M38 40l3 -4M23 38l4 1" stroke="#3aa040" stroke-width="2.5" stroke-linecap="round" fill="none"/><path d="M40 50l2 5M30 39l4 2M70 45l3 3M40 6l4 -1" stroke="#4a9a30" stroke-width="2.5" stroke-linecap="round" fill="none"/><path d="M26 61l7 -3M6 2l3 6M63 18l3 2M32 1l4 -2M33 6l4 1M44 48l6 -5M44 41l6 0M68 49l5 -4M5 55l6 3M92 44l3 -4" stroke="#a8c030" stroke-width="3.5" stroke-linecap="round" fill="none"/><path d="M73 31l3 2M39 55l5 -2M74 14l2 5M58 28l7 0M15 11l5 -0M39 58l5 4M95 33l5 5M45 4l3 -6M51 34l8 -2M49 24l3 1M25 38l7 2" stroke="#3aa040" stroke-width="3.5" stroke-linecap="round" fill="none"/><path d="M66 30l4 6M43 8l6 1M90 36l4 5" stroke="#4a9a30" stroke-width="4.0" stroke-linecap="round" fill="none"/><path d="M78 44l3 1M16 21l2 6M48 18l4 -6" stroke="#2a8a2a" stroke-width="2.5" stroke-linecap="round" fill="none"/></svg></g><rect x="491.50" y="246.50" width="30.20" height="23.10" fill="none" stroke="#0e3a12" stroke-width="1"/>
<g fill="none" stroke="#6a6a6a" stroke-width="1.4">
<path d="M69.3 271.5V287.6Q69.3 289.7 71.4 289.7H310Q312.1 289.7 312.1 287.6V271.5"/>
<path d="M349.6 271.5V287.6Q349.6 289.5 351.6 289.5H506.4Q508.1 289.5 508.2 287.5V271.8"/>
</g>
<g style="font-family:'Liberation Serif',serif;font-size:13.5px" fill="#000" stroke="#000" stroke-width="0.15">
<text x="137.3" y="287.6">landscape paintings</text>
<text x="388.4" y="287.6">abstract paintings</text>
</g>
<text x="260.3" y="315.1" style="font-family:'Liberation Serif',serif;font-size:13px" fill="#000" stroke="#000" stroke-width="0.15">Painting</text></svg>
</body></html>
